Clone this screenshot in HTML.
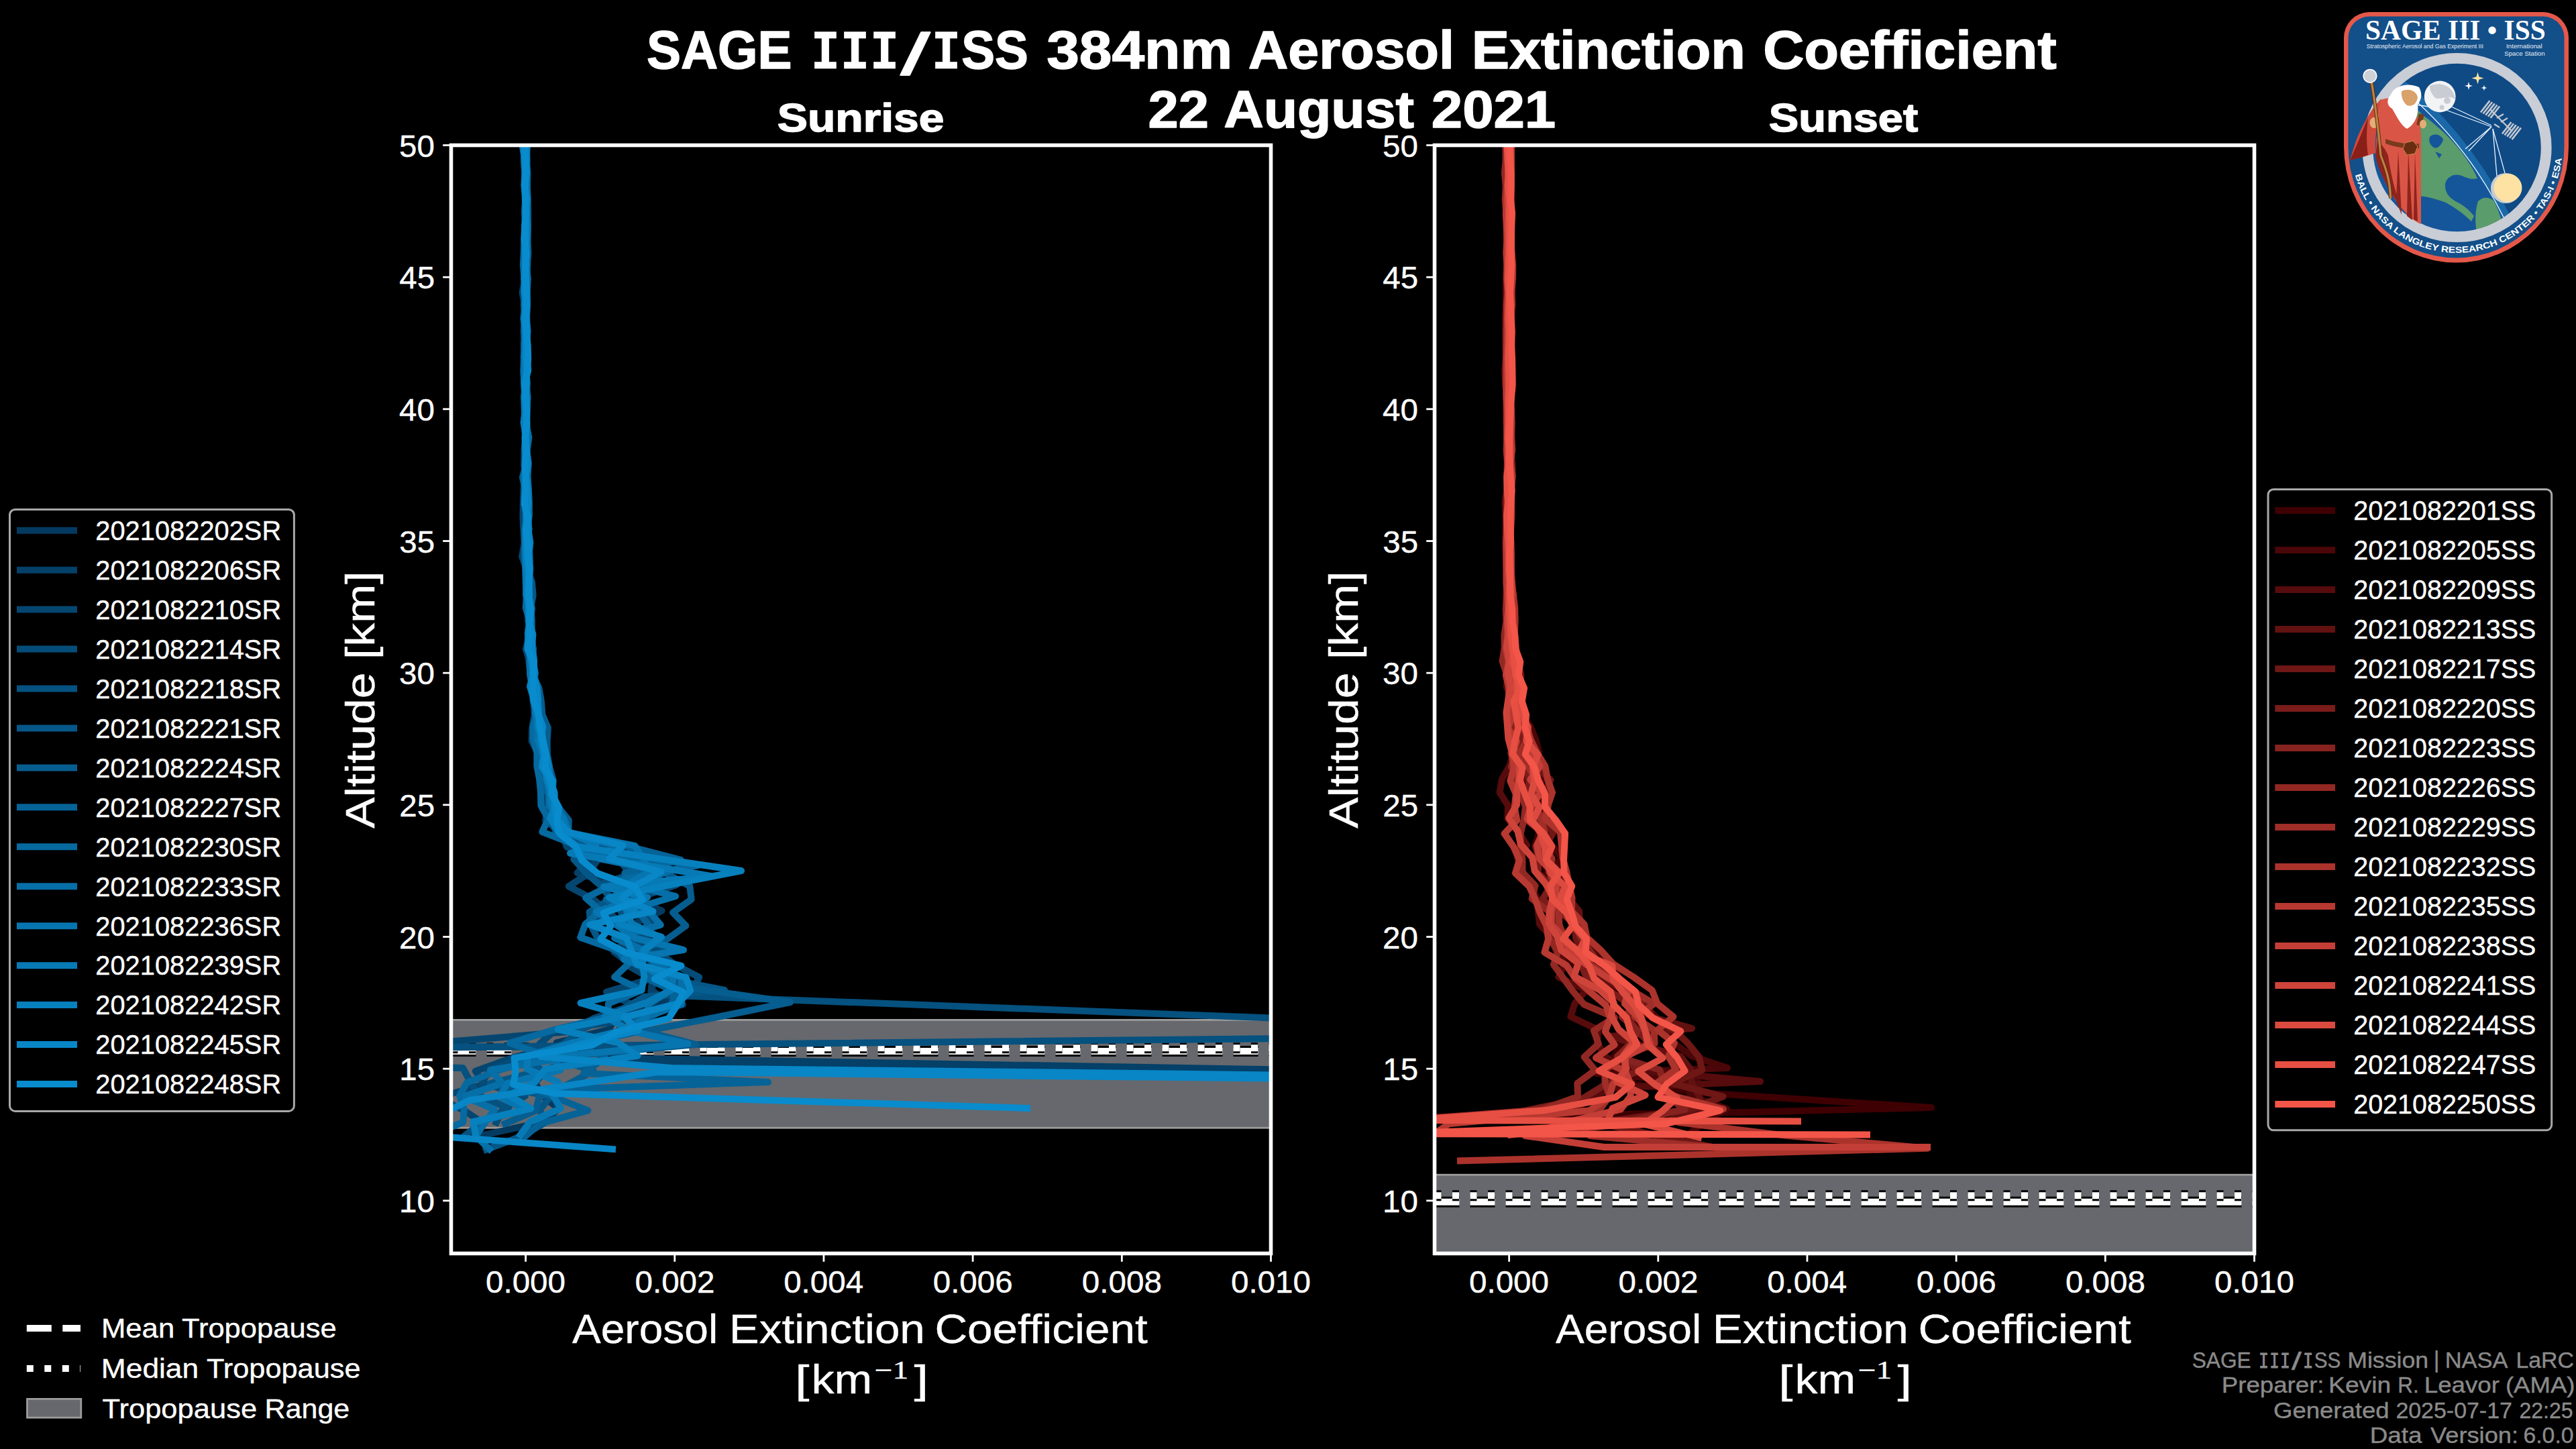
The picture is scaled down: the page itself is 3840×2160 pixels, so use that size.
<!DOCTYPE html><html><head><meta charset="utf-8"><title>SAGE III/ISS 384nm Aerosol Extinction Coefficient</title><style>html,body{margin:0;padding:0;background:#000;width:3840px;height:2160px;overflow:hidden}svg{display:block}</style></head><body>
<svg width="3840" height="2160" viewBox="0 0 3840 2160">
<rect x="0" y="0" width="3840" height="2160" fill="#000"/>
<defs>
<clipPath id="clip0"><rect x="672.5" y="216.5" width="1222.0" height="1652.0"/></clipPath>
<clipPath id="clip1"><rect x="2138.5" y="216.5" width="1222.0" height="1652.0"/></clipPath>
</defs>
<text x="963.96" y="102.00" font-family="'Liberation Sans', Arial, sans-serif" font-weight="bold" font-size="79.64" fill="#fff" stroke="#fff" stroke-width="1.5" stroke-linejoin="round" textLength="216.57" lengthAdjust="spacingAndGlyphs">SAGE</text>
<text x="1208.13" y="102.00" font-family="'DejaVu Sans Mono', monospace" font-weight="bold" font-size="74.93" fill="#fff" stroke="#fff" stroke-width="0.6" stroke-linejoin="round" textLength="44.29" lengthAdjust="spacingAndGlyphs">I</text>
<text x="1252.19" y="102.00" font-family="'DejaVu Sans Mono', monospace" font-weight="bold" font-size="74.93" fill="#fff" stroke="#fff" stroke-width="0.6" stroke-linejoin="round" textLength="44.57" lengthAdjust="spacingAndGlyphs">I</text>
<text x="1296.53" y="102.00" font-family="'DejaVu Sans Mono', monospace" font-weight="bold" font-size="74.93" fill="#fff" stroke="#fff" stroke-width="0.6" stroke-linejoin="round" textLength="44.29" lengthAdjust="spacingAndGlyphs">I</text>
<text x="1388.19" y="102.00" font-family="'DejaVu Sans Mono', monospace" font-weight="bold" font-size="74.93" fill="#fff" stroke="#fff" stroke-width="0.6" stroke-linejoin="round" textLength="44.57" lengthAdjust="spacingAndGlyphs">I</text>
<text x="1433.21" y="102.00" font-family="'Liberation Sans', Arial, sans-serif" font-weight="bold" font-size="79.64" fill="#fff" stroke="#fff" stroke-width="1.5" stroke-linejoin="round" textLength="99.55" lengthAdjust="spacingAndGlyphs">SS</text>
<text x="1560.28" y="102.00" font-family="'Liberation Sans', Arial, sans-serif" font-weight="bold" font-size="79.64" fill="#fff" stroke="#fff" stroke-width="1.5" stroke-linejoin="round" textLength="276.90" lengthAdjust="spacingAndGlyphs">384nm</text>
<text x="1860.69" y="102.00" font-family="'Liberation Sans', Arial, sans-serif" font-weight="bold" font-size="79.64" fill="#fff" stroke="#fff" stroke-width="1.5" stroke-linejoin="round" textLength="307.20" lengthAdjust="spacingAndGlyphs">Aerosol</text>
<text x="2193.65" y="102.00" font-family="'Liberation Sans', Arial, sans-serif" font-weight="bold" font-size="79.64" fill="#fff" stroke="#fff" stroke-width="1.5" stroke-linejoin="round" textLength="408.16" lengthAdjust="spacingAndGlyphs">Extinction</text>
<text x="2628.16" y="102.00" font-family="'Liberation Sans', Arial, sans-serif" font-weight="bold" font-size="79.64" fill="#fff" stroke="#fff" stroke-width="1.5" stroke-linejoin="round" textLength="437.52" lengthAdjust="spacingAndGlyphs">Coefficient</text>
<text x="1342.90" y="111.02" font-family="'Liberation Sans', Arial, sans-serif" font-weight="normal" font-size="88.03" fill="#fff" stroke="#fff" stroke-width="2.0" stroke-linejoin="round" textLength="42.95" lengthAdjust="spacingAndGlyphs">/</text>
<text x="1711.61" y="190.00" font-family="'Liberation Sans', Arial, sans-serif" font-weight="bold" font-size="78.49" fill="#fff" stroke="#fff" stroke-width="1.5" stroke-linejoin="round" textLength="90.27" lengthAdjust="spacingAndGlyphs">22</text>
<text x="1824.19" y="190.00" font-family="'Liberation Sans', Arial, sans-serif" font-weight="bold" font-size="78.49" fill="#fff" stroke="#fff" stroke-width="1.5" stroke-linejoin="round" textLength="283.71" lengthAdjust="spacingAndGlyphs">August</text>
<text x="2133.83" y="190.00" font-family="'Liberation Sans', Arial, sans-serif" font-weight="bold" font-size="78.49" fill="#fff" stroke="#fff" stroke-width="1.5" stroke-linejoin="round" textLength="185.29" lengthAdjust="spacingAndGlyphs">2021</text>
<text x="1158.72" y="195.90" font-family="'Liberation Sans', Arial, sans-serif" font-weight="bold" font-size="59.86" fill="#fff" stroke="#fff" stroke-width="1.5" stroke-linejoin="round" textLength="248.68" lengthAdjust="spacingAndGlyphs">Sunrise</text>
<text x="2636.75" y="195.90" font-family="'Liberation Sans', Arial, sans-serif" font-weight="bold" font-size="59.86" fill="#fff" stroke="#fff" stroke-width="1.5" stroke-linejoin="round" textLength="222.44" lengthAdjust="spacingAndGlyphs">Sunset</text>
<g clip-path="url(#clip0)">
<rect x="662.5" y="1520.40" width="1242.0" height="160.87" fill="#66686d" stroke="#9c9c9c" stroke-width="2.8"/>
<line x1="672.5" y1="1567.0" x2="1954.5" y2="1567.0" stroke="#000" stroke-width="16" stroke-dasharray="37 16"/>
<line x1="672.5" y1="1567.0" x2="1954.5" y2="1567.0" stroke="#fff" stroke-width="10" stroke-dasharray="37 16"/>
<line x1="672.5" y1="1562.3" x2="1954.5" y2="1562.3" stroke="#000" stroke-width="16" stroke-dasharray="10 16.5"/>
<line x1="672.5" y1="1562.3" x2="1954.5" y2="1562.3" stroke="#fff" stroke-width="10" stroke-dasharray="10 16.5"/>
<polyline points="785.4,216.5 784.7,236.7 783.9,256.3 784.2,276.0 783.3,295.7 784.3,315.3 783.3,335.0 784.2,354.7 783.5,374.3 786.4,394.0 784.4,413.7 785.7,433.3 784.9,453.0 784.1,472.7 785.4,492.3 785.9,512.0 784.6,531.7 784.1,551.3 784.3,571.0 783.2,590.7 783.1,610.3 785.1,630.0 783.7,649.7 782.6,669.3 783.7,689.0 784.3,708.7 783.5,728.3 782.9,748.0 786.2,767.7 787.8,787.3 787.3,807.0 787.8,826.7 790.6,846.3 789.4,866.0 789.1,885.7 792.0,905.3 792.8,925.0 791.8,944.7 794.1,964.3 796.3,984.0 794.4,1003.7 798.2,1023.3 795.0,1043.0 801.2,1062.7 803.9,1082.3 805.9,1102.0 813.7,1121.7 817.6,1141.3 812.3,1161.0 821.2,1180.7 820.5,1200.3 825.5,1220.0 835.3,1239.7 901.0,1259.3 920.5,1279.0 995.7,1298.7 1001.3,1318.3 938.9,1338.0 986.6,1357.7 944.4,1377.3 962.2,1397.0 925.5,1416.7 954.1,1436.3 976.6,1456.0 971.4,1475.7 994.7,1495.3 918.2,1515.0 907.7,1534.7 829.6,1554.3 871.7,1574.0 816.1,1593.7 797.8,1613.3 807.8,1633.0 832.9,1652.7 810.4,1672.3 720.8,1692.0" fill="none" stroke="#043a60" stroke-width="10" stroke-linejoin="round" stroke-linecap="square"/>
<polyline points="781.9,216.5 784.4,239.1 783.7,258.7 782.9,278.4 783.0,298.1 782.5,317.7 782.1,337.4 781.5,357.1 784.5,376.7 783.6,396.4 784.9,416.1 784.8,435.7 785.7,455.4 785.3,475.1 784.8,494.7 785.0,514.4 785.3,534.1 785.0,553.7 784.6,573.4 784.7,593.1 785.9,612.7 784.6,632.4 784.7,652.1 784.0,671.7 785.9,691.4 783.3,711.1 783.7,730.7 784.0,750.4 783.5,770.1 785.9,789.7 784.2,809.4 784.7,829.1 786.1,848.7 787.1,868.4 784.5,888.1 785.2,907.7 788.3,927.4 786.9,947.1 795.2,966.7 790.8,986.4 797.3,1006.1 798.5,1025.7 795.8,1045.4 804.0,1065.1 807.0,1084.7 806.7,1104.4 806.7,1124.1 814.3,1143.7 815.0,1163.4 818.4,1183.1 823.1,1202.7 833.4,1222.4 832.0,1242.1 888.4,1261.7 881.4,1281.4 860.5,1301.1 926.2,1320.7 938.1,1340.4 907.2,1360.1 882.0,1379.7 938.6,1399.4 915.2,1419.1 941.7,1438.7 972.8,1458.4 970.3,1478.1 1017.9,1497.7 930.5,1517.4 922.4,1537.1 849.3,1556.7 960.0,1578.0 6000.0,1666.0 930.0,1584.0" fill="none" stroke="#044068" stroke-width="10" stroke-linejoin="round" stroke-linecap="square"/>
<polyline points="783.9,216.5 781.1,239.7 782.3,259.3 783.0,279.0 783.2,298.7 783.4,318.3 782.1,338.0 781.3,357.7 781.8,377.3 783.4,397.0 781.9,416.7 778.8,436.3 782.2,456.0 781.0,475.7 783.2,495.3 782.6,515.0 785.0,534.7 783.8,554.3 784.3,574.0 782.7,593.7 782.1,613.3 782.5,633.0 783.1,652.7 781.5,672.3 781.1,692.0 782.5,711.7 780.5,731.3 779.9,751.0 779.5,770.7 780.4,790.3 781.5,810.0 778.2,829.7 785.0,849.3 785.7,869.0 784.3,888.7 788.5,908.3 788.9,928.0 789.1,947.7 783.8,967.3 789.7,987.0 790.4,1006.7 794.6,1026.3 795.6,1046.0 796.8,1065.7 793.2,1085.3 792.7,1105.0 803.3,1124.7 801.0,1144.3 806.6,1164.0 807.8,1183.7 815.8,1203.3 813.2,1223.0 838.3,1242.7 844.7,1262.3 890.7,1282.0 877.7,1301.7 847.9,1321.3 885.1,1341.0 908.0,1360.7 931.0,1380.3 931.3,1400.0 939.2,1419.7 936.2,1439.3 970.7,1459.0 904.0,1478.7 943.8,1498.3 885.1,1518.0 850.2,1537.7 560.0,1562.0 824.0,1560.0 763.3,1577.0 708.8,1596.7 722.3,1616.3 653.0,1636.0 692.3,1655.7 721.8,1675.3 706.8,1695.0" fill="none" stroke="#054670" stroke-width="10" stroke-linejoin="round" stroke-linecap="square"/>
<polyline points="785.4,216.5 784.3,237.5 783.7,257.1 784.6,276.8 782.6,296.5 784.1,316.1 784.8,335.8 783.1,355.5 784.9,375.1 782.4,394.8 781.2,414.5 782.8,434.1 780.7,453.8 782.2,473.5 780.5,493.1 782.7,512.8 780.5,532.5 782.7,552.1 782.9,571.8 783.8,591.5 785.8,611.1 785.3,630.8 784.5,650.5 782.9,670.1 785.2,689.8 783.9,709.5 782.3,729.1 784.7,748.8 783.8,768.5 784.1,788.1 784.8,807.8 788.2,827.5 787.0,847.1 786.5,866.8 789.5,886.5 789.6,906.1 787.4,925.8 790.8,945.5 787.2,965.1 788.3,984.8 790.4,1004.5 794.5,1024.1 796.8,1043.8 797.2,1063.5 811.0,1083.1 805.4,1102.8 809.0,1122.5 812.0,1142.1 819.3,1161.8 824.2,1181.5 828.2,1201.1 829.8,1220.8 827.6,1240.5 900.4,1260.1 922.2,1279.8 936.7,1299.5 1008.2,1319.1 950.5,1338.8 949.1,1358.5 981.3,1378.1 939.3,1397.8 978.7,1417.5 1004.7,1437.1 1042.3,1456.8 1032.2,1476.5 1000.6,1496.1 971.1,1515.8 828.4,1535.5 805.4,1555.1 787.4,1574.8 730.6,1594.5 718.6,1614.1 782.7,1633.8 749.6,1653.5 740.0,1673.1" fill="none" stroke="#054c78" stroke-width="10" stroke-linejoin="round" stroke-linecap="square"/>
<polyline points="784.5,216.5 781.9,236.2 783.7,255.9 783.5,275.5 783.9,295.2 783.8,314.9 784.2,334.5 785.0,354.2 784.5,373.9 786.3,393.5 785.8,413.2 783.9,432.9 785.0,452.5 784.8,472.2 786.2,491.9 783.4,511.5 786.1,531.2 787.4,550.9 783.1,570.5 784.6,590.2 785.1,609.9 785.2,629.5 786.6,649.2 785.6,668.9 786.9,688.5 784.3,708.2 783.0,727.9 784.0,747.5 786.5,767.2 784.1,786.9 783.5,806.5 787.6,826.2 783.6,845.9 788.2,865.5 788.1,885.2 786.5,904.9 787.8,924.5 792.7,944.2 789.8,963.9 795.0,983.5 792.0,1003.2 798.9,1022.9 797.4,1042.5 800.3,1062.2 802.9,1081.9 808.8,1101.5 804.2,1121.2 810.6,1140.9 814.5,1160.5 820.8,1180.2 816.0,1199.9 838.1,1219.5 842.6,1239.2 868.7,1258.9 967.5,1278.5 954.7,1298.2 896.8,1317.9 908.4,1337.5 924.9,1357.2 933.1,1376.9 957.2,1396.5 994.8,1416.2 971.3,1435.9 996.4,1455.5 1000.0,1484.0 2541.0,1541.6 -316.0,1571.0 690.0,1592.0 701.3,1612.9 713.0,1632.5 757.8,1652.2 719.4,1671.9 694.5,1691.5" fill="none" stroke="#05517f" stroke-width="10" stroke-linejoin="round" stroke-linecap="square"/>
<polyline points="785.0,216.5 784.8,238.5 782.4,258.2 783.9,277.8 783.8,297.5 785.6,317.2 783.9,336.8 784.3,356.5 784.3,376.2 785.6,395.8 783.4,415.5 784.2,435.2 782.8,454.8 785.3,474.5 784.0,494.2 782.3,513.8 781.8,533.5 782.8,553.2 781.4,572.8 784.4,592.5 783.0,612.2 784.8,631.8 785.1,651.5 783.6,671.2 784.0,690.8 783.6,710.5 783.2,730.2 783.9,749.8 786.6,769.5 787.4,789.2 790.7,808.8 788.3,828.5 786.3,848.2 792.9,867.8 794.6,887.5 791.0,907.2 791.3,926.8 792.9,946.5 791.4,966.2 792.8,985.8 793.2,1005.5 796.6,1025.2 798.5,1044.8 800.1,1064.5 800.9,1084.2 807.5,1103.8 808.7,1123.5 812.8,1143.2 812.7,1162.8 818.1,1182.5 826.3,1202.2 818.8,1221.8 830.5,1241.5 874.2,1261.2 855.4,1280.8 873.0,1300.5 895.4,1320.2 910.6,1339.8 878.6,1359.5 880.9,1379.2 890.9,1398.8 919.3,1418.5 999.6,1438.2 988.8,1457.8 1080.0,1476.0 960.0,1486.0 906.8,1516.8 863.0,1536.5 840.7,1556.2 777.9,1575.8 808.0,1595.5 730.6,1615.2 820.0,1634.8 804.9,1654.5 811.4,1674.2 777.5,1693.8 725.1,1713.5" fill="none" stroke="#055787" stroke-width="10" stroke-linejoin="round" stroke-linecap="square"/>
<polyline points="785.8,216.5 785.1,239.3 786.5,259.0 786.0,278.7 786.8,298.3 787.1,318.0 787.1,337.7 786.3,357.3 787.5,377.0 785.8,396.7 784.5,416.3 785.5,436.0 784.9,455.7 783.9,475.3 786.6,495.0 784.9,514.7 785.8,534.3 783.4,554.0 785.9,573.7 784.9,593.3 785.2,613.0 784.6,632.7 788.5,652.3 785.6,672.0 786.5,691.7 786.2,711.3 785.0,731.0 786.4,750.7 784.7,770.3 787.5,790.0 788.1,809.7 789.8,829.3 789.9,849.0 787.7,868.7 787.2,888.3 790.9,908.0 792.8,927.7 792.4,947.3 794.6,967.0 794.2,986.7 794.6,1006.3 803.5,1026.0 806.9,1045.7 808.4,1065.3 816.8,1085.0 815.6,1104.7 815.8,1124.3 819.3,1144.0 824.9,1163.7 823.4,1183.3 832.0,1203.0 847.8,1222.7 847.3,1242.3 936.5,1262.0 953.3,1281.7 991.7,1301.3 1028.3,1321.0 1030.6,1340.7 1003.1,1360.3 1022.4,1380.0 995.0,1399.7 947.7,1419.3 949.8,1439.0 1010.0,1470.0 1178.0,1494.0 1080.0,1514.0 960.7,1537.3 1037.7,1557.0 821.3,1576.7 884.6,1596.3 847.8,1616.0 803.6,1635.7 798.6,1655.3 753.2,1675.0" fill="none" stroke="#065d8f" stroke-width="10" stroke-linejoin="round" stroke-linecap="square"/>
<polyline points="785.3,216.5 782.8,239.4 782.8,259.1 782.0,278.8 783.1,298.4 782.4,318.1 784.6,337.8 784.9,357.4 783.7,377.1 783.1,396.8 782.7,416.4 783.8,436.1 783.5,455.8 783.8,475.4 782.3,495.1 782.2,514.8 784.1,534.4 782.5,554.1 782.9,573.8 782.5,593.4 782.7,613.1 784.2,632.8 784.9,652.4 785.5,672.1 784.4,691.8 779.0,711.4 783.1,731.1 783.4,750.8 783.8,770.4 784.0,790.1 787.4,809.8 786.3,829.4 787.1,849.1 788.5,868.8 786.5,888.4 791.8,908.1 792.3,927.8 791.3,947.4 794.5,967.1 795.7,986.8 796.3,1006.4 796.7,1026.1 799.2,1045.8 801.1,1065.4 799.7,1085.1 803.9,1104.8 802.4,1124.4 810.8,1144.1 806.6,1163.8 817.6,1183.4 829.9,1203.1 835.8,1222.8 850.2,1242.4 938.8,1262.1 1014.8,1281.8 931.4,1301.4 976.1,1321.1 903.7,1340.8 952.9,1360.4 967.5,1380.1 925.8,1399.8 964.4,1419.4 994.5,1439.1 965.5,1458.8 1005.9,1478.4 1001.5,1498.1 937.6,1517.8 954.7,1537.4 858.6,1557.1 901.8,1576.8 870.0,1600.0 1145.0,1613.0 800.0,1625.0 876.4,1655.4 804.6,1675.1 781.9,1694.8" fill="none" stroke="#066397" stroke-width="10" stroke-linejoin="round" stroke-linecap="square"/>
<polyline points="781.4,216.5 780.9,237.1 782.2,256.8 781.4,276.5 783.3,296.1 782.2,315.8 783.5,335.5 781.4,355.1 780.9,374.8 779.9,394.5 781.3,414.1 782.1,433.8 782.9,453.5 782.6,473.1 782.0,492.8 781.1,512.5 781.1,532.1 780.4,551.8 781.1,571.5 782.2,591.1 782.1,610.8 781.3,630.5 783.2,650.1 782.0,669.8 784.8,689.5 782.6,709.1 783.9,728.8 782.0,748.5 785.7,768.1 782.1,787.8 782.6,807.5 781.7,827.1 783.5,846.8 783.7,866.5 785.3,886.1 783.7,905.8 789.6,925.5 793.6,945.1 791.2,964.8 795.7,984.5 793.7,1004.1 791.4,1023.8 798.3,1043.5 800.1,1063.1 794.8,1082.8 794.9,1102.5 800.4,1122.1 800.4,1141.8 804.1,1161.5 806.0,1181.1 806.4,1200.8 817.3,1220.5 808.3,1240.1 880.0,1268.0 1040.0,1290.0 930.0,1310.0 873.1,1338.5 895.3,1358.1 872.4,1377.8 865.2,1397.5 921.2,1417.1 936.7,1436.8 916.1,1456.5 956.7,1476.1 907.0,1495.8 906.1,1515.5 826.4,1535.1 759.9,1554.8 816.7,1574.5 747.2,1594.1 696.0,1613.8 685.1,1633.5 691.8,1653.1 690.3,1672.8 644.5,1692.5" fill="none" stroke="#06699f" stroke-width="10" stroke-linejoin="round" stroke-linecap="square"/>
<polyline points="783.1,216.5 783.1,238.0 784.3,257.7 785.3,277.3 786.0,297.0 784.6,316.7 786.3,336.3 786.4,356.0 784.9,375.7 784.3,395.3 786.8,415.0 785.7,434.7 786.2,454.3 784.6,474.0 783.9,493.7 784.6,513.3 782.0,533.0 784.6,552.7 784.2,572.3 786.6,592.0 785.5,611.7 783.3,631.3 787.7,651.0 784.6,670.7 787.8,690.3 786.5,710.0 787.9,729.7 788.8,749.3 788.8,769.0 786.1,788.7 788.6,808.3 786.9,828.0 787.7,847.7 788.4,867.3 787.8,887.0 792.9,906.7 790.3,926.3 790.7,946.0 790.8,965.7 790.1,985.3 790.1,1005.0 793.3,1024.7 794.7,1044.3 799.7,1064.0 799.8,1083.7 800.8,1103.3 809.7,1123.0 812.3,1142.7 816.7,1162.3 818.4,1182.0 818.8,1201.7 835.2,1221.3 838.3,1241.0 917.5,1260.7 894.9,1280.3 993.0,1300.0 940.9,1319.7 1007.0,1336.0 960.0,1350.0 984.8,1378.7 916.2,1398.3 962.7,1418.0 976.4,1437.7 1015.4,1457.3 1017.0,1477.0 1015.9,1496.7 962.6,1516.3 930.7,1536.0 858.7,1555.7 854.1,1575.3 730.9,1595.0 748.7,1614.7 692.4,1634.3 737.2,1654.0 722.7,1673.7 709.2,1693.3 729.5,1713.0" fill="none" stroke="#076fa7" stroke-width="10" stroke-linejoin="round" stroke-linecap="square"/>
<polyline points="783.9,216.5 785.6,238.2 783.9,257.9 784.0,277.6 783.3,297.2 785.0,316.9 782.7,336.6 783.7,356.2 782.3,375.9 785.1,395.6 781.3,415.2 784.9,434.9 783.6,454.6 780.4,474.2 783.1,493.9 783.7,513.6 783.0,533.2 780.9,552.9 783.0,572.6 781.2,592.2 781.8,611.9 782.3,631.6 785.1,651.2 782.9,670.9 783.3,690.6 783.7,710.2 784.8,729.9 786.0,749.6 784.9,769.2 788.6,788.9 785.0,808.6 788.0,828.2 787.4,847.9 788.0,867.6 784.6,887.2 788.1,906.9 788.6,926.6 790.0,946.2 793.4,965.9 794.2,985.6 793.5,1005.2 799.4,1024.9 799.0,1044.6 797.6,1064.2 807.1,1083.9 801.8,1103.6 808.7,1123.2 818.7,1142.9 820.0,1162.6 821.1,1182.2 829.7,1201.9 841.2,1221.6 848.0,1241.2 946.5,1260.9 959.3,1280.6 967.9,1300.2 931.1,1319.9 950.4,1339.6 888.5,1359.2 919.0,1378.9 946.9,1398.6 1019.0,1416.0 930.0,1430.0 1004.3,1457.6 997.9,1477.2 967.1,1496.9 963.5,1516.6 936.9,1536.2 1025.4,1555.9 824.5,1575.6 835.2,1595.2 756.7,1614.9 744.4,1634.6 783.2,1654.2 706.8,1673.9" fill="none" stroke="#0775af" stroke-width="10" stroke-linejoin="round" stroke-linecap="square"/>
<polyline points="778.8,216.5 781.8,236.4 783.2,256.1 782.6,275.8 784.3,295.4 784.9,315.1 784.3,334.8 785.1,354.4 782.5,374.1 784.6,393.8 782.6,413.4 782.2,433.1 784.0,452.8 784.3,472.4 786.4,492.1 784.3,511.8 785.8,531.4 784.3,551.1 785.6,570.8 781.6,590.4 783.6,610.1 780.5,629.8 783.9,649.4 783.0,669.1 783.4,688.8 782.4,708.4 782.5,728.1 782.0,747.8 784.6,767.4 784.1,787.1 782.9,806.8 784.5,826.4 783.5,846.1 784.2,865.8 784.1,885.4 789.7,905.1 790.3,924.8 786.7,944.4 792.7,964.1 794.4,983.8 797.9,1003.4 791.8,1023.1 801.4,1042.8 803.2,1062.4 801.1,1082.1 807.9,1101.8 808.4,1121.4 815.2,1141.1 814.4,1160.8 820.6,1180.4 822.4,1200.1 836.7,1219.8 844.5,1239.4 888.4,1259.1 850.0,1272.0 1000.0,1296.0 1060.0,1306.0 900.0,1322.0 964.9,1337.8 933.8,1357.4 941.4,1377.1 983.0,1396.8 958.6,1416.4 954.3,1436.1 985.2,1455.8 1001.4,1475.4 962.8,1495.1 902.2,1514.8 935.0,1534.4 854.9,1554.1 787.1,1573.8 785.6,1593.4 831.9,1613.1 824.1,1632.8 835.8,1652.4 790.5,1672.1 775.6,1691.8" fill="none" stroke="#077ab6" stroke-width="10" stroke-linejoin="round" stroke-linecap="square"/>
<polyline points="783.6,216.5 784.0,236.5 784.9,256.2 781.7,275.8 786.1,295.5 783.1,315.2 784.7,334.8 783.7,354.5 782.6,374.2 783.3,393.8 782.2,413.5 783.4,433.2 782.2,452.8 783.5,472.5 784.0,492.2 783.4,511.8 783.2,531.5 784.9,551.2 781.9,570.8 782.7,590.5 784.0,610.2 785.4,629.8 784.2,649.5 785.0,669.2 784.4,688.8 783.6,708.5 786.0,728.2 783.5,747.8 786.8,767.5 788.2,787.2 784.5,806.8 784.2,826.5 785.7,846.2 788.5,865.8 788.3,885.5 790.8,905.2 790.9,924.8 787.3,944.5 786.6,964.2 791.9,983.8 795.1,1003.5 790.0,1023.2 795.9,1042.8 801.3,1062.5 806.8,1082.2 809.1,1101.8 813.3,1121.5 817.8,1141.2 817.0,1160.8 822.7,1180.5 828.2,1200.2 820.2,1219.8 831.7,1239.5 860.0,1262.0 1105.0,1298.0 1003.0,1318.0 908.1,1337.8 946.3,1357.5 922.7,1377.2 986.1,1396.8 960.6,1416.5 957.6,1436.2 960.5,1455.8 956.3,1475.5 865.5,1495.2 933.7,1514.8 831.7,1534.5 921.0,1554.2 950.5,1573.8 812.8,1593.5 797.4,1613.2 758.4,1632.8 791.5,1652.5 705.7,1672.2 708.8,1691.8" fill="none" stroke="#0780be" stroke-width="10" stroke-linejoin="round" stroke-linecap="square"/>
<polyline points="785.3,216.5 783.7,237.7 784.9,257.4 782.9,277.1 783.1,296.7 784.2,316.4 784.0,336.1 783.9,355.7 783.0,375.4 782.8,395.1 782.5,414.7 781.5,434.4 784.1,454.1 782.3,473.7 783.6,493.4 785.2,513.1 784.5,532.7 787.1,552.4 781.7,572.1 784.6,591.7 784.3,611.4 785.1,631.1 783.5,650.7 784.5,670.4 787.0,690.1 783.7,709.7 786.1,729.4 787.2,749.1 784.6,768.7 787.4,788.4 789.6,808.1 788.2,827.7 789.6,847.4 788.4,867.1 789.1,886.7 788.5,906.4 788.8,926.1 794.4,945.7 792.7,965.4 795.9,985.1 794.3,1004.7 800.5,1024.4 802.0,1044.1 802.2,1063.7 809.3,1083.4 806.4,1103.1 811.6,1122.7 808.0,1142.4 819.8,1162.1 826.6,1181.7 826.9,1201.4 829.5,1221.1 847.1,1240.7 928.7,1260.4 908.5,1280.1 985.7,1299.7 948.5,1319.4 927.3,1339.1 973.4,1358.7 879.3,1378.4 934.0,1398.1 941.3,1417.7 949.1,1437.4 1022.7,1457.1 1029.1,1476.7 1009.5,1496.4 930.8,1516.1 951.5,1535.7 870.2,1555.4 806.2,1575.1 1000.0,1592.0 6000.0,1650.0 980.0,1598.0 700.0,1640.0 600.0,1690.0 913.0,1713.0" fill="none" stroke="#0886c6" stroke-width="10" stroke-linejoin="round" stroke-linecap="square"/>
<polyline points="781.6,216.5 783.4,240.0 783.2,259.6 782.4,279.3 783.5,299.0 784.0,318.6 782.1,338.3 781.9,358.0 784.9,377.6 783.2,397.3 784.0,417.0 784.7,436.6 784.9,456.3 784.2,476.0 784.7,495.6 786.7,515.3 787.2,535.0 785.4,554.6 783.9,574.3 783.4,594.0 785.1,613.6 784.3,633.3 782.5,653.0 784.6,672.6 782.6,692.3 783.6,712.0 783.2,731.6 781.8,751.3 787.1,771.0 783.8,790.6 786.1,810.3 786.8,830.0 789.3,849.6 788.4,869.3 787.1,889.0 790.8,908.6 789.4,928.3 790.2,948.0 786.5,967.6 795.8,987.3 795.2,1007.0 793.8,1026.6 796.3,1046.3 803.2,1066.0 804.9,1085.6 809.7,1105.3 813.8,1125.0 812.9,1144.6 823.9,1164.3 822.4,1184.0 833.2,1203.6 830.1,1223.3 834.5,1243.0 858.4,1262.6 867.4,1282.3 890.9,1302.0 945.9,1321.6 958.1,1341.3 899.5,1361.0 910.3,1380.6 895.2,1400.3 932.6,1420.0 1015.4,1439.6 975.7,1459.3 1018.5,1479.0 1009.3,1498.6 996.8,1518.3 919.6,1538.0 883.5,1557.6 766.6,1577.3 768.6,1597.0 765.3,1616.6 828.0,1630.0 1531.0,1652.0" fill="none" stroke="#088cce" stroke-width="10" stroke-linejoin="round" stroke-linecap="square"/>
</g>
<rect x="672.5" y="216.5" width="1222.0" height="1652.0" fill="none" stroke="#fff" stroke-width="5.6" stroke-linejoin="miter"/>
<line x1="660.2" y1="1789.83" x2="672.5" y2="1789.83" stroke="#fff" stroke-width="2.8"/>
<line x1="660.2" y1="1593.17" x2="672.5" y2="1593.17" stroke="#fff" stroke-width="2.8"/>
<line x1="660.2" y1="1396.50" x2="672.5" y2="1396.50" stroke="#fff" stroke-width="2.8"/>
<line x1="660.2" y1="1199.83" x2="672.5" y2="1199.83" stroke="#fff" stroke-width="2.8"/>
<line x1="660.2" y1="1003.17" x2="672.5" y2="1003.17" stroke="#fff" stroke-width="2.8"/>
<line x1="660.2" y1="806.50" x2="672.5" y2="806.50" stroke="#fff" stroke-width="2.8"/>
<line x1="660.2" y1="609.83" x2="672.5" y2="609.83" stroke="#fff" stroke-width="2.8"/>
<line x1="660.2" y1="413.17" x2="672.5" y2="413.17" stroke="#fff" stroke-width="2.8"/>
<line x1="660.2" y1="216.50" x2="672.5" y2="216.50" stroke="#fff" stroke-width="2.8"/>
<line x1="783.59" y1="1868.5" x2="783.59" y2="1880.8" stroke="#fff" stroke-width="2.8"/>
<line x1="1005.77" y1="1868.5" x2="1005.77" y2="1880.8" stroke="#fff" stroke-width="2.8"/>
<line x1="1227.95" y1="1868.5" x2="1227.95" y2="1880.8" stroke="#fff" stroke-width="2.8"/>
<line x1="1450.14" y1="1868.5" x2="1450.14" y2="1880.8" stroke="#fff" stroke-width="2.8"/>
<line x1="1672.32" y1="1868.5" x2="1672.32" y2="1880.8" stroke="#fff" stroke-width="2.8"/>
<line x1="1894.50" y1="1868.5" x2="1894.50" y2="1880.8" stroke="#fff" stroke-width="2.8"/>
<g clip-path="url(#clip1)">
<rect x="2128.5" y="1751.29" width="1242.0" height="156.55" fill="#66686d" stroke="#9c9c9c" stroke-width="2.8"/>
<line x1="2138.5" y1="1791.7" x2="3420.5" y2="1791.7" stroke="#000" stroke-width="16" stroke-dasharray="37 16"/>
<line x1="2138.5" y1="1791.7" x2="3420.5" y2="1791.7" stroke="#fff" stroke-width="10" stroke-dasharray="37 16"/>
<line x1="2138.5" y1="1782.3" x2="3420.5" y2="1782.3" stroke="#000" stroke-width="16" stroke-dasharray="10 16.5"/>
<line x1="2138.5" y1="1782.3" x2="3420.5" y2="1782.3" stroke="#fff" stroke-width="10" stroke-dasharray="10 16.5"/>
<polyline points="2247.7,216.5 2247.7,238.9 2246.5,258.6 2248.8,278.2 2246.4,297.9 2249.9,317.6 2249.6,337.2 2250.8,356.9 2249.9,376.6 2250.5,396.2 2249.5,415.9 2248.8,435.6 2248.8,455.2 2247.5,474.9 2247.2,494.6 2246.3,514.2 2246.5,533.9 2246.5,553.6 2247.1,573.2 2246.8,592.9 2246.5,612.6 2247.5,632.2 2248.0,651.9 2246.8,671.6 2248.2,691.2 2249.2,710.9 2247.4,730.6 2248.2,750.2 2249.8,769.9 2246.1,789.6 2245.8,809.2 2246.2,828.9 2249.2,848.6 2249.2,868.2 2249.2,887.9 2253.6,907.6 2254.1,927.2 2251.8,946.9 2250.6,966.6 2256.5,986.2 2254.6,1005.9 2258.5,1025.6 2260.0,1045.2 2270.5,1064.9 2264.5,1084.6 2259.8,1104.2 2266.4,1123.9 2276.4,1143.6 2270.1,1163.2 2286.2,1182.9 2289.4,1202.6 2288.2,1222.2 2293.8,1241.9 2287.7,1261.6 2304.4,1281.2 2305.6,1300.9 2320.2,1320.6 2312.8,1340.2 2320.1,1359.9 2321.2,1379.6 2330.4,1399.2 2326.6,1418.9 2348.1,1438.6 2397.3,1458.2 2402.5,1477.9 2428.2,1497.6 2436.1,1517.2 2439.2,1536.9 2417.1,1556.6 2404.9,1576.2 2441.8,1595.9 2430.8,1615.6 2537.0,1629.0 2879.0,1651.0 2600.0,1658.0 1940.0,1668.0" fill="none" stroke="#3e0003" stroke-width="10" stroke-linejoin="round" stroke-linecap="square"/>
<polyline points="2249.2,216.5 2249.7,236.9 2249.4,256.5 2249.9,276.2 2249.1,295.9 2249.7,315.5 2249.3,335.2 2250.6,354.9 2252.3,374.5 2251.3,394.2 2252.7,413.9 2252.4,433.5 2253.3,453.2 2253.5,472.9 2254.4,492.5 2252.2,512.2 2253.4,531.9 2252.8,551.5 2252.1,571.2 2251.4,590.9 2250.2,610.5 2250.7,630.2 2249.9,649.9 2249.4,669.5 2248.5,689.2 2248.2,708.9 2248.3,728.5 2248.7,748.2 2248.9,767.9 2250.6,787.5 2250.0,807.2 2251.6,826.9 2249.1,846.5 2254.1,866.2 2255.1,885.9 2254.6,905.5 2257.8,925.2 2258.0,944.9 2255.2,964.5 2255.6,984.2 2259.6,1003.9 2255.4,1023.5 2263.2,1043.2 2266.6,1062.9 2281.2,1082.5 2289.3,1102.2 2294.2,1121.9 2285.2,1141.5 2299.3,1161.2 2291.7,1180.9 2294.6,1200.5 2302.4,1220.2 2302.3,1239.9 2313.0,1259.5 2328.0,1279.2 2312.5,1298.9 2307.5,1318.5 2327.2,1338.2 2340.4,1357.9 2347.7,1377.5 2351.6,1397.2 2380.3,1416.9 2402.4,1436.5 2411.7,1456.2 2422.6,1475.9 2448.2,1495.5 2468.0,1515.2 2485.2,1534.9 2494.7,1554.5 2521.8,1574.2 2575.0,1592.0 2380.0,1600.0 2531.9,1613.5 2518.5,1633.2 2574.2,1652.9 2540.5,1672.5 2515.9,1692.2" fill="none" stroke="#4a0608" stroke-width="10" stroke-linejoin="round" stroke-linecap="square"/>
<polyline points="2246.5,216.5 2246.3,237.1 2246.6,256.8 2245.2,276.4 2244.5,296.1 2245.3,315.8 2245.8,335.4 2245.7,355.1 2246.1,374.8 2245.9,394.4 2245.0,414.1 2245.0,433.8 2245.0,453.4 2243.8,473.1 2244.2,492.8 2244.3,512.4 2245.0,532.1 2243.0,551.8 2244.2,571.4 2245.8,591.1 2245.2,610.8 2245.5,630.4 2247.4,650.1 2245.3,669.8 2246.7,689.4 2245.7,709.1 2246.5,728.8 2243.4,748.4 2244.6,768.1 2244.6,787.8 2244.3,807.4 2244.7,827.1 2245.0,846.8 2246.1,866.4 2245.2,886.1 2245.4,905.8 2246.6,925.4 2244.0,945.1 2246.0,964.8 2242.6,984.4 2247.6,1004.1 2245.7,1023.8 2254.1,1043.4 2256.3,1063.1 2261.9,1082.8 2256.3,1102.4 2255.9,1122.1 2250.3,1141.8 2238.9,1161.4 2235.5,1181.1 2247.9,1200.8 2247.5,1220.4 2263.4,1240.1 2276.0,1259.8 2262.3,1279.4 2269.8,1299.1 2280.9,1318.8 2290.8,1338.4 2292.8,1358.1 2294.9,1377.8 2313.1,1397.4 2319.3,1417.1 2332.9,1436.8 2323.2,1456.4 2364.5,1476.1 2347.5,1495.8 2341.3,1515.4 2382.0,1535.1 2381.0,1554.8 2392.1,1574.4 2420.4,1594.1 2624.0,1612.0 2400.0,1622.0 2346.7,1653.1 2093.4,1672.8 2121.6,1692.4" fill="none" stroke="#560b0c" stroke-width="10" stroke-linejoin="round" stroke-linecap="square"/>
<polyline points="2251.2,216.5 2253.2,237.5 2251.3,257.2 2252.7,276.9 2252.7,296.5 2253.0,316.2 2251.7,335.9 2252.9,355.5 2251.6,375.2 2251.4,394.9 2250.9,414.5 2250.8,434.2 2249.1,453.9 2251.6,473.5 2250.7,493.2 2250.9,512.9 2251.5,532.5 2252.0,552.2 2250.6,571.9 2251.0,591.5 2250.4,611.2 2249.9,630.9 2250.5,650.5 2252.1,670.2 2250.7,689.9 2252.2,709.5 2250.6,729.2 2251.7,748.9 2250.5,768.5 2249.4,788.2 2252.0,807.9 2252.6,827.5 2252.4,847.2 2251.2,866.9 2256.3,886.5 2256.0,906.2 2256.9,925.9 2256.7,945.5 2255.8,965.2 2259.8,984.9 2262.0,1004.5 2259.0,1024.2 2266.2,1043.9 2271.1,1063.5 2273.9,1083.2 2277.2,1102.9 2281.8,1122.5 2286.7,1142.2 2277.1,1161.9 2287.7,1181.5 2288.5,1201.2 2274.6,1220.9 2299.5,1240.5 2300.1,1260.2 2305.6,1279.9 2324.2,1299.5 2332.5,1319.2 2338.0,1338.9 2354.2,1358.5 2354.5,1378.2 2351.4,1397.9 2366.7,1417.5 2366.5,1437.2 2385.7,1456.9 2420.3,1476.5 2432.4,1496.2 2461.4,1515.9 2522.0,1533.0 2400.0,1545.0 2505.2,1574.9 2520.6,1594.5 2521.7,1614.2 2532.8,1633.9 2538.3,1653.5 2479.2,1673.2" fill="none" stroke="#621111" stroke-width="10" stroke-linejoin="round" stroke-linecap="square"/>
<polyline points="2251.2,216.5 2249.8,238.2 2251.1,257.9 2251.9,277.6 2252.7,297.2 2251.0,316.9 2253.2,336.6 2252.3,356.2 2253.2,375.9 2253.4,395.6 2253.0,415.2 2253.9,434.9 2251.6,454.6 2250.8,474.2 2250.7,493.9 2252.6,513.6 2251.4,533.2 2251.8,552.9 2250.5,572.6 2251.1,592.2 2249.6,611.9 2251.2,631.6 2252.3,651.2 2251.0,670.9 2254.2,690.6 2254.4,710.2 2252.7,729.9 2251.0,749.6 2251.9,769.2 2251.0,788.9 2251.9,808.6 2252.5,828.2 2252.2,847.9 2253.7,867.6 2253.5,887.2 2254.9,906.9 2257.5,926.6 2255.1,946.2 2258.8,965.9 2262.2,985.6 2267.1,1005.2 2267.1,1024.9 2266.3,1044.6 2273.7,1064.2 2275.9,1083.9 2278.8,1103.6 2286.1,1123.2 2289.9,1142.9 2311.4,1162.6 2302.3,1182.2 2307.9,1201.9 2300.4,1221.6 2315.5,1241.2 2304.0,1260.9 2313.5,1280.6 2309.2,1300.2 2327.7,1319.9 2325.7,1339.6 2342.5,1359.2 2347.3,1378.9 2349.1,1398.6 2358.1,1418.2 2371.3,1437.9 2395.8,1457.6 2426.7,1477.2 2456.0,1496.9 2461.9,1516.6 2496.6,1536.2 2516.8,1555.9 2532.7,1575.6 2537.3,1595.2 2492.2,1614.9 2568.6,1634.6 2516.5,1654.2 2381.7,1673.9 2474.4,1693.6 2568.7,1713.2" fill="none" stroke="#6e1715" stroke-width="10" stroke-linejoin="round" stroke-linecap="square"/>
<polyline points="2248.1,216.5 2247.8,239.0 2248.6,258.6 2250.5,278.3 2250.0,298.0 2249.9,317.6 2249.9,337.3 2249.5,357.0 2248.0,376.6 2248.2,396.3 2247.3,416.0 2246.6,435.6 2247.1,455.3 2247.7,475.0 2250.1,494.6 2249.5,514.3 2249.5,534.0 2249.7,553.6 2247.4,573.3 2248.5,593.0 2247.1,612.6 2246.0,632.3 2246.5,652.0 2248.7,671.6 2249.1,691.3 2249.5,711.0 2249.3,730.6 2249.0,750.3 2247.0,770.0 2245.3,789.6 2245.0,809.3 2247.5,829.0 2246.8,848.6 2247.0,868.3 2246.6,888.0 2247.0,907.6 2248.0,927.3 2250.8,947.0 2248.3,966.6 2247.7,986.3 2250.5,1006.0 2252.7,1025.6 2256.0,1045.3 2253.7,1065.0 2268.2,1084.6 2266.2,1104.3 2272.8,1124.0 2273.0,1143.6 2280.4,1163.3 2274.3,1183.0 2290.1,1202.6 2276.1,1222.3 2300.3,1242.0 2289.3,1261.6 2293.7,1281.3 2292.5,1301.0 2311.6,1320.6 2299.6,1340.3 2319.3,1360.0 2322.2,1379.6 2322.5,1399.3 2333.8,1419.0 2357.3,1438.6 2365.6,1458.3 2399.9,1478.0 2431.5,1497.6 2426.3,1517.3 2440.9,1537.0 2459.8,1556.6 2419.8,1576.3 2443.4,1596.0 2395.2,1615.6 2357.0,1639.0 2202.0,1670.0" fill="none" stroke="#7a1c1a" stroke-width="10" stroke-linejoin="round" stroke-linecap="square"/>
<polyline points="2249.1,216.5 2249.4,237.7 2249.8,257.4 2251.2,277.1 2250.8,296.7 2251.2,316.4 2249.8,336.1 2249.7,355.7 2247.4,375.4 2246.5,395.1 2245.9,414.7 2247.2,434.4 2247.8,454.1 2248.8,473.7 2250.3,493.4 2248.4,513.1 2247.6,532.7 2248.9,552.4 2248.2,572.1 2249.0,591.7 2247.4,611.4 2249.8,631.1 2250.2,650.7 2249.8,670.4 2248.9,690.1 2250.4,709.7 2248.4,729.4 2248.4,749.1 2250.3,768.7 2250.5,788.4 2251.2,808.1 2251.5,827.7 2250.4,847.4 2250.2,867.1 2247.4,886.7 2248.7,906.4 2249.1,926.1 2252.2,945.7 2252.3,965.4 2259.2,985.1 2257.2,1004.7 2260.3,1024.4 2256.6,1044.1 2261.9,1063.7 2255.1,1083.4 2256.8,1103.1 2252.3,1122.7 2259.0,1142.4 2261.8,1162.1 2258.8,1181.7 2279.4,1201.4 2295.8,1221.1 2301.3,1240.7 2312.1,1260.4 2309.8,1280.1 2310.9,1299.7 2314.0,1319.4 2328.7,1339.1 2325.8,1358.7 2348.0,1378.4 2356.2,1398.1 2370.5,1417.7 2384.9,1437.4 2406.2,1457.1 2430.6,1476.7 2446.3,1496.4 2418.1,1516.1 2441.1,1535.7 2431.4,1555.4 2410.7,1575.1 2474.1,1594.7 2480.5,1614.4 2485.0,1634.1 2511.6,1653.7 2421.3,1673.4 2303.4,1693.1" fill="none" stroke="#86221f" stroke-width="10" stroke-linejoin="round" stroke-linecap="square"/>
<polyline points="2244.4,216.5 2244.6,238.4 2242.9,258.1 2244.7,277.7 2243.6,297.4 2245.6,317.1 2246.0,336.7 2247.6,356.4 2246.9,376.1 2249.0,395.7 2248.6,415.4 2247.8,435.1 2245.5,454.7 2246.7,474.4 2245.2,494.1 2245.3,513.7 2244.8,533.4 2244.7,553.1 2244.6,572.7 2245.6,592.4 2246.6,612.1 2246.3,631.7 2246.9,651.4 2246.4,671.1 2247.8,690.7 2246.4,710.4 2246.3,730.1 2246.1,749.7 2246.4,769.4 2246.5,789.1 2247.4,808.7 2247.0,828.4 2248.3,848.1 2247.8,867.7 2246.1,887.4 2244.7,907.1 2245.4,926.7 2242.5,946.4 2242.7,966.1 2239.5,985.7 2246.2,1005.4 2249.1,1025.1 2248.7,1044.7 2251.5,1064.4 2247.7,1084.1 2254.4,1103.7 2260.4,1123.4 2253.0,1143.1 2265.6,1162.7 2266.7,1182.4 2273.9,1202.1 2271.8,1221.7 2266.8,1241.4 2266.6,1261.1 2269.4,1280.7 2269.5,1300.4 2288.5,1320.1 2283.6,1339.7 2310.3,1359.4 2305.3,1379.1 2310.0,1398.7 2322.3,1418.4 2316.0,1438.1 2330.1,1457.7 2344.5,1477.4 2361.1,1497.1 2406.7,1516.7 2375.9,1536.4 2382.9,1556.1 2361.7,1575.7 2377.7,1595.4 2351.3,1615.1 2352.1,1634.7 2297.3,1654.4 2033.6,1674.1" fill="none" stroke="#922823" stroke-width="10" stroke-linejoin="round" stroke-linecap="square"/>
<polyline points="2252.0,216.5 2252.5,237.6 2252.9,257.3 2252.1,277.0 2251.1,296.6 2250.9,316.3 2250.8,336.0 2251.8,355.6 2251.7,375.3 2251.2,395.0 2249.8,414.6 2249.5,434.3 2247.8,454.0 2246.9,473.6 2247.8,493.3 2246.7,513.0 2247.5,532.6 2249.4,552.3 2249.1,572.0 2250.6,591.6 2250.0,611.3 2250.4,631.0 2250.2,650.6 2249.4,670.3 2248.5,690.0 2249.5,709.6 2250.1,729.3 2250.4,749.0 2251.0,768.6 2251.2,788.3 2252.4,808.0 2253.1,827.6 2253.0,847.3 2253.4,867.0 2254.7,886.6 2250.0,906.3 2252.3,926.0 2252.3,945.6 2252.2,965.3 2249.5,985.0 2256.1,1004.6 2260.8,1024.3 2261.0,1044.0 2265.6,1063.6 2270.1,1083.3 2278.1,1103.0 2263.7,1122.6 2277.4,1142.3 2290.0,1162.0 2285.4,1181.6 2289.4,1201.3 2297.5,1221.0 2302.6,1240.6 2300.6,1260.3 2313.6,1280.0 2309.0,1299.6 2320.0,1319.3 2327.0,1339.0 2323.4,1358.6 2324.3,1378.3 2332.1,1398.0 2350.1,1417.6 2370.4,1437.3 2396.1,1457.0 2432.7,1476.6 2465.6,1496.3 2437.0,1516.0 2465.6,1535.6 2466.5,1555.3 2421.1,1575.0 2392.4,1594.6 2392.6,1614.3 2399.4,1634.0 2384.9,1653.6 2356.6,1673.3 2369.9,1693.0 2579.7,1712.6" fill="none" stroke="#9f2d28" stroke-width="10" stroke-linejoin="round" stroke-linecap="square"/>
<polyline points="2253.2,216.5 2253.0,237.3 2253.1,257.0 2252.8,276.6 2251.9,296.3 2253.5,316.0 2253.1,335.6 2252.8,355.3 2253.3,375.0 2255.2,394.6 2255.1,414.3 2253.3,434.0 2254.1,453.6 2252.6,473.3 2252.6,493.0 2251.1,512.6 2252.7,532.3 2252.0,552.0 2251.1,571.6 2252.3,591.3 2252.9,611.0 2253.6,630.6 2253.1,650.3 2254.2,670.0 2252.0,689.6 2254.7,709.3 2252.9,729.0 2253.2,748.6 2253.3,768.3 2252.2,788.0 2251.4,807.6 2251.3,827.3 2252.3,847.0 2253.6,866.6 2255.8,886.3 2258.1,906.0 2258.6,925.6 2257.8,945.3 2260.0,965.0 2260.8,984.6 2263.3,1004.3 2259.3,1024.0 2266.1,1043.6 2264.0,1063.3 2276.1,1083.0 2281.9,1102.6 2291.3,1122.3 2303.3,1142.0 2307.0,1161.6 2314.0,1181.3 2307.4,1201.0 2303.3,1220.6 2325.9,1240.3 2327.9,1260.0 2329.7,1279.6 2335.3,1299.3 2339.1,1319.0 2343.5,1338.6 2342.8,1358.3 2361.6,1378.0 2365.6,1397.6 2387.0,1417.3 2404.9,1437.0 2435.4,1456.6 2462.8,1476.3 2470.5,1496.0 2494.4,1515.6 2471.1,1535.3 2495.9,1555.0 2487.1,1574.6 2498.2,1594.3 2470.0,1614.0 2494.3,1633.6 2569.0,1653.3 2502.1,1673.0 2661.0,1692.6 2873.0,1711.8 2177.0,1730.4" fill="none" stroke="#ab332c" stroke-width="10" stroke-linejoin="round" stroke-linecap="square"/>
<polyline points="2247.4,216.5 2248.0,239.6 2248.2,259.3 2246.7,278.9 2246.0,298.6 2244.8,318.3 2245.8,337.9 2246.4,357.6 2245.3,377.3 2246.7,396.9 2246.5,416.6 2248.0,436.3 2247.0,455.9 2246.2,475.6 2247.2,495.3 2246.7,514.9 2246.2,534.6 2246.2,554.3 2246.1,573.9 2245.5,593.6 2246.4,613.3 2246.4,632.9 2246.3,652.6 2246.2,672.3 2247.4,691.9 2249.6,711.6 2248.1,731.3 2249.2,750.9 2249.3,770.6 2246.5,790.3 2245.3,809.9 2245.4,829.6 2245.6,849.3 2245.4,868.9 2247.2,888.6 2248.0,908.3 2246.5,927.9 2247.4,947.6 2244.8,967.3 2248.9,986.9 2244.8,1006.6 2249.6,1026.3 2250.4,1045.9 2255.6,1065.6 2247.5,1085.3 2261.1,1104.9 2253.7,1124.6 2256.9,1144.3 2251.3,1163.9 2259.8,1183.6 2257.7,1203.3 2261.3,1222.9 2242.6,1242.6 2256.3,1262.3 2264.9,1281.9 2258.9,1301.6 2279.6,1321.3 2288.7,1340.9 2295.6,1360.6 2305.5,1380.3 2308.1,1399.9 2302.5,1419.6 2335.3,1439.3 2348.7,1458.9 2370.1,1478.6 2393.9,1498.3 2400.3,1517.9 2392.7,1537.6 2406.8,1557.3 2379.0,1576.9 2422.4,1596.6 2404.1,1616.3 2398.7,1635.9 2368.9,1655.6 2159.7,1675.3 2131.4,1694.9" fill="none" stroke="#b73931" stroke-width="10" stroke-linejoin="round" stroke-linecap="square"/>
<polyline points="2249.8,216.5 2247.4,237.7 2248.4,257.3 2249.2,277.0 2249.2,296.7 2248.7,316.3 2249.9,336.0 2250.8,355.7 2251.2,375.3 2251.2,395.0 2249.7,414.7 2250.3,434.3 2249.9,454.0 2248.4,473.7 2249.9,493.3 2250.8,513.0 2248.5,532.7 2248.5,552.3 2250.2,572.0 2248.6,591.7 2248.3,611.3 2250.6,631.0 2250.6,650.7 2248.5,670.3 2248.7,690.0 2249.8,709.7 2246.7,729.3 2248.2,749.0 2250.6,768.7 2250.7,788.3 2249.3,808.0 2251.0,827.7 2251.6,847.3 2253.1,867.0 2254.1,886.7 2250.8,906.3 2254.7,926.0 2250.9,945.7 2249.7,965.3 2249.8,985.0 2252.6,1004.7 2255.6,1024.3 2259.6,1044.0 2264.2,1063.7 2278.0,1083.3 2275.0,1103.0 2285.1,1122.7 2295.8,1142.3 2281.3,1162.0 2297.5,1181.7 2282.0,1201.3 2276.4,1221.0 2299.6,1240.7 2291.2,1260.3 2295.0,1280.0 2313.5,1299.7 2319.7,1319.3 2318.1,1339.0 2312.7,1358.7 2312.5,1378.3 2331.6,1398.0 2339.1,1417.7 2364.0,1437.3 2395.9,1457.0 2427.5,1476.7 2422.0,1496.3 2442.0,1516.0 2452.1,1535.7 2459.9,1555.3 2423.7,1575.0 2421.6,1594.7 2430.2,1614.3 2430.7,1634.0 2415.9,1653.7 2333.9,1673.3 2273.4,1693.0 2391.0,1710.0 2873.0,1710.0" fill="none" stroke="#c33e36" stroke-width="10" stroke-linejoin="round" stroke-linecap="square"/>
<polyline points="2249.0,216.5 2248.0,236.2 2248.6,255.8 2249.2,275.5 2247.7,295.2 2249.0,314.8 2247.8,334.5 2248.3,354.2 2248.7,373.8 2247.9,393.5 2248.0,413.2 2248.3,432.8 2250.5,452.5 2248.7,472.2 2249.5,491.8 2249.2,511.5 2248.1,531.2 2247.8,550.8 2249.0,570.5 2249.1,590.2 2249.6,609.8 2250.1,629.5 2251.2,649.2 2250.2,668.8 2249.7,688.5 2248.5,708.2 2248.6,727.8 2248.2,747.5 2245.8,767.2 2246.3,786.8 2247.7,806.5 2249.0,826.2 2249.0,845.8 2249.9,865.5 2248.9,885.2 2248.9,904.8 2247.4,924.5 2249.1,944.2 2246.3,963.8 2249.8,983.5 2247.6,1003.2 2252.0,1022.8 2248.3,1042.5 2245.4,1062.2 2247.0,1081.8 2248.4,1101.5 2253.8,1121.2 2265.7,1140.8 2264.2,1160.5 2261.4,1180.2 2261.0,1199.8 2249.2,1219.5 2262.6,1239.2 2267.0,1258.8 2284.3,1278.5 2287.7,1298.2 2304.3,1317.8 2315.0,1337.5 2310.1,1357.2 2309.0,1376.8 2321.5,1396.5 2327.2,1416.2 2352.6,1435.8 2346.5,1455.5 2384.1,1475.2 2405.6,1494.8 2401.9,1514.5 2412.8,1534.2 2435.2,1553.8 2419.7,1573.5 2424.4,1593.2 2410.6,1612.8 2452.6,1632.5 2403.7,1652.2 2396.0,1671.8 2252.1,1691.5" fill="none" stroke="#cf443a" stroke-width="10" stroke-linejoin="round" stroke-linecap="square"/>
<polyline points="2251.3,216.5 2251.8,240.0 2250.5,259.6 2250.9,279.3 2251.4,299.0 2251.7,318.6 2252.3,338.3 2250.0,358.0 2253.3,377.6 2249.6,397.3 2250.4,417.0 2250.9,436.6 2252.5,456.3 2250.7,476.0 2250.4,495.6 2250.5,515.3 2253.0,535.0 2250.5,554.6 2251.8,574.3 2252.0,594.0 2252.2,613.6 2251.2,633.3 2250.5,653.0 2251.4,672.6 2250.8,692.3 2250.3,712.0 2251.1,731.6 2249.1,751.3 2249.5,771.0 2251.4,790.6 2250.9,810.3 2251.6,830.0 2251.8,849.6 2251.1,869.3 2252.1,889.0 2249.4,908.6 2251.8,928.3 2252.5,948.0 2258.2,967.6 2254.0,987.3 2263.1,1007.0 2260.7,1026.6 2265.3,1046.3 2270.0,1066.0 2277.6,1085.6 2275.6,1105.3 2292.5,1125.0 2285.1,1144.6 2287.5,1164.3 2282.3,1184.0 2294.8,1203.6 2284.7,1223.3 2297.1,1243.0 2302.6,1262.6 2305.1,1282.3 2312.3,1302.0 2333.5,1321.6 2324.6,1341.3 2339.9,1361.0 2345.9,1380.6 2363.2,1400.3 2352.4,1420.0 2403.4,1439.6 2404.4,1459.3 2418.9,1479.0 2436.6,1498.6 2447.3,1518.3 2452.8,1538.0 2456.4,1557.6 2478.6,1577.3 2442.2,1597.0 2466.8,1616.6 2499.8,1636.3 2478.4,1656.0 2450.5,1675.6 2532.0,1695.3" fill="none" stroke="#db4a3f" stroke-width="10" stroke-linejoin="round" stroke-linecap="square"/>
<polyline points="2246.7,216.5 2247.6,239.3 2248.8,258.9 2247.9,278.6 2250.7,298.3 2249.7,317.9 2250.5,337.6 2250.1,357.3 2249.8,376.9 2249.2,396.6 2248.0,416.3 2249.6,435.9 2249.1,455.6 2248.5,475.3 2249.7,494.9 2249.2,514.6 2248.7,534.3 2249.6,553.9 2249.5,573.6 2248.5,593.3 2248.6,612.9 2248.7,632.6 2247.8,652.3 2249.5,671.9 2248.4,691.6 2246.2,711.3 2246.9,730.9 2248.3,750.6 2246.3,770.3 2247.2,789.9 2249.2,809.6 2249.5,829.3 2249.2,848.9 2251.1,868.6 2251.2,888.3 2251.4,907.9 2251.5,927.6 2252.4,947.3 2254.6,966.9 2257.7,986.6 2259.3,1006.3 2265.5,1025.9 2256.4,1045.6 2260.2,1065.3 2263.3,1084.9 2258.3,1104.6 2255.0,1124.3 2269.6,1143.9 2266.0,1163.6 2273.1,1183.3 2280.7,1202.9 2280.9,1222.6 2300.7,1242.3 2313.4,1261.9 2304.7,1281.6 2324.5,1301.3 2311.1,1320.9 2314.2,1340.6 2334.7,1360.3 2344.6,1379.9 2330.2,1399.6 2354.4,1419.3 2368.4,1438.9 2376.3,1458.6 2400.9,1478.3 2405.6,1497.9 2424.8,1517.6 2430.3,1537.3 2440.4,1556.9 2418.4,1576.6 2383.5,1596.3 2432.4,1615.9 2408.4,1635.6 2301.8,1655.3 2100.0,1670.0 2680.0,1671.4" fill="none" stroke="#e74f43" stroke-width="10" stroke-linejoin="round" stroke-linecap="square"/>
<polyline points="2250.4,216.5 2251.2,239.3 2252.6,259.0 2252.6,278.6 2252.1,298.3 2254.0,318.0 2253.2,337.6 2253.0,357.3 2252.6,377.0 2253.2,396.6 2252.2,416.3 2251.2,436.0 2251.4,455.6 2252.6,475.3 2253.7,495.0 2253.2,514.6 2254.0,534.3 2254.4,554.0 2254.7,573.6 2252.9,593.3 2251.2,613.0 2250.7,632.6 2250.0,652.3 2249.5,672.0 2250.5,691.6 2252.0,711.3 2253.7,731.0 2252.3,750.6 2251.6,770.3 2251.8,790.0 2251.9,809.6 2250.3,829.3 2250.7,849.0 2251.3,868.6 2251.3,888.3 2254.3,908.0 2254.7,927.6 2258.3,947.3 2259.1,967.0 2266.3,986.6 2263.6,1006.3 2272.1,1026.0 2268.7,1045.6 2275.1,1065.3 2273.3,1085.0 2279.6,1104.6 2273.8,1124.3 2287.6,1144.0 2293.2,1163.6 2303.0,1183.3 2303.1,1203.0 2319.3,1222.6 2333.1,1242.3 2332.1,1262.0 2331.1,1281.6 2331.5,1301.3 2343.2,1321.0 2335.6,1340.6 2342.7,1360.3 2348.6,1380.0 2365.2,1399.6 2363.5,1419.3 2391.8,1439.0 2413.8,1458.6 2437.9,1478.3 2442.7,1498.0 2464.4,1517.6 2505.4,1537.3 2483.8,1557.0 2499.9,1576.6 2511.5,1596.3 2484.5,1616.0 2471.5,1635.6 2564.1,1655.3 2484.2,1675.0 2080.0,1690.0 2783.0,1691.6" fill="none" stroke="#f35548" stroke-width="10" stroke-linejoin="round" stroke-linecap="square"/>
</g>
<rect x="2138.5" y="216.5" width="1222.0" height="1652.0" fill="none" stroke="#fff" stroke-width="5.6" stroke-linejoin="miter"/>
<line x1="2126.2" y1="1789.83" x2="2138.5" y2="1789.83" stroke="#fff" stroke-width="2.8"/>
<line x1="2126.2" y1="1593.17" x2="2138.5" y2="1593.17" stroke="#fff" stroke-width="2.8"/>
<line x1="2126.2" y1="1396.50" x2="2138.5" y2="1396.50" stroke="#fff" stroke-width="2.8"/>
<line x1="2126.2" y1="1199.83" x2="2138.5" y2="1199.83" stroke="#fff" stroke-width="2.8"/>
<line x1="2126.2" y1="1003.17" x2="2138.5" y2="1003.17" stroke="#fff" stroke-width="2.8"/>
<line x1="2126.2" y1="806.50" x2="2138.5" y2="806.50" stroke="#fff" stroke-width="2.8"/>
<line x1="2126.2" y1="609.83" x2="2138.5" y2="609.83" stroke="#fff" stroke-width="2.8"/>
<line x1="2126.2" y1="413.17" x2="2138.5" y2="413.17" stroke="#fff" stroke-width="2.8"/>
<line x1="2126.2" y1="216.50" x2="2138.5" y2="216.50" stroke="#fff" stroke-width="2.8"/>
<line x1="2249.59" y1="1868.5" x2="2249.59" y2="1880.8" stroke="#fff" stroke-width="2.8"/>
<line x1="2471.77" y1="1868.5" x2="2471.77" y2="1880.8" stroke="#fff" stroke-width="2.8"/>
<line x1="2693.95" y1="1868.5" x2="2693.95" y2="1880.8" stroke="#fff" stroke-width="2.8"/>
<line x1="2916.14" y1="1868.5" x2="2916.14" y2="1880.8" stroke="#fff" stroke-width="2.8"/>
<line x1="3138.32" y1="1868.5" x2="3138.32" y2="1880.8" stroke="#fff" stroke-width="2.8"/>
<line x1="3360.50" y1="1868.5" x2="3360.50" y2="1880.8" stroke="#fff" stroke-width="2.8"/>
<text x="595.10" y="1807.13" font-family="'Liberation Sans', Arial, sans-serif" font-weight="normal" font-size="46.75" fill="#fff" stroke="#fff" stroke-width="0.4" stroke-linejoin="round" textLength="52.90" lengthAdjust="spacingAndGlyphs">10</text>
<text x="595.22" y="1610.47" font-family="'Liberation Sans', Arial, sans-serif" font-weight="normal" font-size="46.75" fill="#fff" stroke="#fff" stroke-width="0.4" stroke-linejoin="round" textLength="52.90" lengthAdjust="spacingAndGlyphs">15</text>
<text x="595.10" y="1413.80" font-family="'Liberation Sans', Arial, sans-serif" font-weight="normal" font-size="46.75" fill="#fff" stroke="#fff" stroke-width="0.4" stroke-linejoin="round" textLength="52.90" lengthAdjust="spacingAndGlyphs">20</text>
<text x="595.22" y="1217.13" font-family="'Liberation Sans', Arial, sans-serif" font-weight="normal" font-size="46.75" fill="#fff" stroke="#fff" stroke-width="0.4" stroke-linejoin="round" textLength="52.90" lengthAdjust="spacingAndGlyphs">25</text>
<text x="595.10" y="1020.47" font-family="'Liberation Sans', Arial, sans-serif" font-weight="normal" font-size="46.75" fill="#fff" stroke="#fff" stroke-width="0.4" stroke-linejoin="round" textLength="52.90" lengthAdjust="spacingAndGlyphs">30</text>
<text x="595.22" y="823.80" font-family="'Liberation Sans', Arial, sans-serif" font-weight="normal" font-size="46.75" fill="#fff" stroke="#fff" stroke-width="0.4" stroke-linejoin="round" textLength="52.90" lengthAdjust="spacingAndGlyphs">35</text>
<text x="595.10" y="627.13" font-family="'Liberation Sans', Arial, sans-serif" font-weight="normal" font-size="46.75" fill="#fff" stroke="#fff" stroke-width="0.4" stroke-linejoin="round" textLength="52.90" lengthAdjust="spacingAndGlyphs">40</text>
<text x="595.22" y="430.47" font-family="'Liberation Sans', Arial, sans-serif" font-weight="normal" font-size="46.75" fill="#fff" stroke="#fff" stroke-width="0.4" stroke-linejoin="round" textLength="52.90" lengthAdjust="spacingAndGlyphs">45</text>
<text x="595.10" y="233.80" font-family="'Liberation Sans', Arial, sans-serif" font-weight="normal" font-size="46.75" fill="#fff" stroke="#fff" stroke-width="0.4" stroke-linejoin="round" textLength="52.90" lengthAdjust="spacingAndGlyphs">50</text>
<text x="724.03" y="1926.80" font-family="'Liberation Sans', Arial, sans-serif" font-weight="normal" font-size="46.75" fill="#fff" stroke="#fff" stroke-width="0.4" stroke-linejoin="round" textLength="119.01" lengthAdjust="spacingAndGlyphs">0.000</text>
<text x="946.51" y="1926.80" font-family="'Liberation Sans', Arial, sans-serif" font-weight="normal" font-size="46.75" fill="#fff" stroke="#fff" stroke-width="0.4" stroke-linejoin="round" textLength="119.01" lengthAdjust="spacingAndGlyphs">0.002</text>
<text x="1168.15" y="1926.80" font-family="'Liberation Sans', Arial, sans-serif" font-weight="normal" font-size="46.75" fill="#fff" stroke="#fff" stroke-width="0.4" stroke-linejoin="round" textLength="119.01" lengthAdjust="spacingAndGlyphs">0.004</text>
<text x="1390.69" y="1926.80" font-family="'Liberation Sans', Arial, sans-serif" font-weight="normal" font-size="46.75" fill="#fff" stroke="#fff" stroke-width="0.4" stroke-linejoin="round" textLength="119.01" lengthAdjust="spacingAndGlyphs">0.006</text>
<text x="1612.88" y="1926.80" font-family="'Liberation Sans', Arial, sans-serif" font-weight="normal" font-size="46.75" fill="#fff" stroke="#fff" stroke-width="0.4" stroke-linejoin="round" textLength="119.01" lengthAdjust="spacingAndGlyphs">0.008</text>
<text x="1834.94" y="1926.80" font-family="'Liberation Sans', Arial, sans-serif" font-weight="normal" font-size="46.75" fill="#fff" stroke="#fff" stroke-width="0.4" stroke-linejoin="round" textLength="119.01" lengthAdjust="spacingAndGlyphs">0.010</text>
<text x="2061.10" y="1807.13" font-family="'Liberation Sans', Arial, sans-serif" font-weight="normal" font-size="46.75" fill="#fff" stroke="#fff" stroke-width="0.4" stroke-linejoin="round" textLength="52.90" lengthAdjust="spacingAndGlyphs">10</text>
<text x="2061.22" y="1610.47" font-family="'Liberation Sans', Arial, sans-serif" font-weight="normal" font-size="46.75" fill="#fff" stroke="#fff" stroke-width="0.4" stroke-linejoin="round" textLength="52.90" lengthAdjust="spacingAndGlyphs">15</text>
<text x="2061.10" y="1413.80" font-family="'Liberation Sans', Arial, sans-serif" font-weight="normal" font-size="46.75" fill="#fff" stroke="#fff" stroke-width="0.4" stroke-linejoin="round" textLength="52.90" lengthAdjust="spacingAndGlyphs">20</text>
<text x="2061.22" y="1217.13" font-family="'Liberation Sans', Arial, sans-serif" font-weight="normal" font-size="46.75" fill="#fff" stroke="#fff" stroke-width="0.4" stroke-linejoin="round" textLength="52.90" lengthAdjust="spacingAndGlyphs">25</text>
<text x="2061.10" y="1020.47" font-family="'Liberation Sans', Arial, sans-serif" font-weight="normal" font-size="46.75" fill="#fff" stroke="#fff" stroke-width="0.4" stroke-linejoin="round" textLength="52.90" lengthAdjust="spacingAndGlyphs">30</text>
<text x="2061.22" y="823.80" font-family="'Liberation Sans', Arial, sans-serif" font-weight="normal" font-size="46.75" fill="#fff" stroke="#fff" stroke-width="0.4" stroke-linejoin="round" textLength="52.90" lengthAdjust="spacingAndGlyphs">35</text>
<text x="2061.10" y="627.13" font-family="'Liberation Sans', Arial, sans-serif" font-weight="normal" font-size="46.75" fill="#fff" stroke="#fff" stroke-width="0.4" stroke-linejoin="round" textLength="52.90" lengthAdjust="spacingAndGlyphs">40</text>
<text x="2061.22" y="430.47" font-family="'Liberation Sans', Arial, sans-serif" font-weight="normal" font-size="46.75" fill="#fff" stroke="#fff" stroke-width="0.4" stroke-linejoin="round" textLength="52.90" lengthAdjust="spacingAndGlyphs">45</text>
<text x="2061.10" y="233.80" font-family="'Liberation Sans', Arial, sans-serif" font-weight="normal" font-size="46.75" fill="#fff" stroke="#fff" stroke-width="0.4" stroke-linejoin="round" textLength="52.90" lengthAdjust="spacingAndGlyphs">50</text>
<text x="2190.03" y="1926.80" font-family="'Liberation Sans', Arial, sans-serif" font-weight="normal" font-size="46.75" fill="#fff" stroke="#fff" stroke-width="0.4" stroke-linejoin="round" textLength="119.01" lengthAdjust="spacingAndGlyphs">0.000</text>
<text x="2412.51" y="1926.80" font-family="'Liberation Sans', Arial, sans-serif" font-weight="normal" font-size="46.75" fill="#fff" stroke="#fff" stroke-width="0.4" stroke-linejoin="round" textLength="119.01" lengthAdjust="spacingAndGlyphs">0.002</text>
<text x="2634.15" y="1926.80" font-family="'Liberation Sans', Arial, sans-serif" font-weight="normal" font-size="46.75" fill="#fff" stroke="#fff" stroke-width="0.4" stroke-linejoin="round" textLength="119.01" lengthAdjust="spacingAndGlyphs">0.004</text>
<text x="2856.69" y="1926.80" font-family="'Liberation Sans', Arial, sans-serif" font-weight="normal" font-size="46.75" fill="#fff" stroke="#fff" stroke-width="0.4" stroke-linejoin="round" textLength="119.01" lengthAdjust="spacingAndGlyphs">0.006</text>
<text x="3078.88" y="1926.80" font-family="'Liberation Sans', Arial, sans-serif" font-weight="normal" font-size="46.75" fill="#fff" stroke="#fff" stroke-width="0.4" stroke-linejoin="round" textLength="119.01" lengthAdjust="spacingAndGlyphs">0.008</text>
<text x="3300.94" y="1926.80" font-family="'Liberation Sans', Arial, sans-serif" font-weight="normal" font-size="46.75" fill="#fff" stroke="#fff" stroke-width="0.4" stroke-linejoin="round" textLength="119.01" lengthAdjust="spacingAndGlyphs">0.010</text>
<text x="853.04" y="2002.20" font-family="'Liberation Sans', Arial, sans-serif" font-weight="normal" font-size="61.38" fill="#fff" stroke="#fff" stroke-width="0.4" stroke-linejoin="round" textLength="217.13" lengthAdjust="spacingAndGlyphs">Aerosol</text>
<text x="1086.84" y="2002.20" font-family="'Liberation Sans', Arial, sans-serif" font-weight="normal" font-size="61.38" fill="#fff" stroke="#fff" stroke-width="0.4" stroke-linejoin="round" textLength="292.01" lengthAdjust="spacingAndGlyphs">Extinction</text>
<text x="1393.43" y="2002.20" font-family="'Liberation Sans', Arial, sans-serif" font-weight="normal" font-size="61.38" fill="#fff" stroke="#fff" stroke-width="0.4" stroke-linejoin="round" textLength="317.33" lengthAdjust="spacingAndGlyphs">Coefficient</text>
<text x="1185.35" y="2077.00" font-family="'Liberation Sans', Arial, sans-serif" font-weight="normal" font-size="59.31" fill="#fff" stroke="#fff" stroke-width="0.4" stroke-linejoin="round" textLength="21.26" lengthAdjust="spacingAndGlyphs">[</text>
<text x="1209.40" y="2077.00" font-family="'Liberation Sans', Arial, sans-serif" font-weight="normal" font-size="60.41" fill="#fff" stroke="#fff" stroke-width="0.4" stroke-linejoin="round" textLength="90.76" lengthAdjust="spacingAndGlyphs">km</text>
<text x="1303.51" y="2055.40" font-family="'Liberation Serif', 'Times New Roman', serif" font-weight="normal" font-size="37.58" fill="#fff" stroke="#fff" stroke-width="0.4" stroke-linejoin="round" textLength="50.80" lengthAdjust="spacingAndGlyphs">−1</text>
<text x="1362.52" y="2077.00" font-family="'Liberation Sans', Arial, sans-serif" font-weight="normal" font-size="59.31" fill="#fff" stroke="#fff" stroke-width="0.4" stroke-linejoin="round" textLength="21.67" lengthAdjust="spacingAndGlyphs">]</text>
<text transform="translate(558.00,1234.97) rotate(-90)" x="0" y="0" font-family="'Liberation Sans', Arial, sans-serif" font-size="60.80" fill="#fff" stroke="#fff" stroke-width="0.4" stroke-linejoin="round" textLength="383.63" lengthAdjust="spacingAndGlyphs">Altitude [km]</text>
<text x="2319.04" y="2002.20" font-family="'Liberation Sans', Arial, sans-serif" font-weight="normal" font-size="61.38" fill="#fff" stroke="#fff" stroke-width="0.4" stroke-linejoin="round" textLength="217.13" lengthAdjust="spacingAndGlyphs">Aerosol</text>
<text x="2552.84" y="2002.20" font-family="'Liberation Sans', Arial, sans-serif" font-weight="normal" font-size="61.38" fill="#fff" stroke="#fff" stroke-width="0.4" stroke-linejoin="round" textLength="292.01" lengthAdjust="spacingAndGlyphs">Extinction</text>
<text x="2859.43" y="2002.20" font-family="'Liberation Sans', Arial, sans-serif" font-weight="normal" font-size="61.38" fill="#fff" stroke="#fff" stroke-width="0.4" stroke-linejoin="round" textLength="317.33" lengthAdjust="spacingAndGlyphs">Coefficient</text>
<text x="2651.34" y="2077.00" font-family="'Liberation Sans', Arial, sans-serif" font-weight="normal" font-size="59.31" fill="#fff" stroke="#fff" stroke-width="0.4" stroke-linejoin="round" textLength="21.26" lengthAdjust="spacingAndGlyphs">[</text>
<text x="2675.40" y="2077.00" font-family="'Liberation Sans', Arial, sans-serif" font-weight="normal" font-size="60.41" fill="#fff" stroke="#fff" stroke-width="0.4" stroke-linejoin="round" textLength="90.76" lengthAdjust="spacingAndGlyphs">km</text>
<text x="2769.51" y="2055.40" font-family="'Liberation Serif', 'Times New Roman', serif" font-weight="normal" font-size="37.58" fill="#fff" stroke="#fff" stroke-width="0.4" stroke-linejoin="round" textLength="50.80" lengthAdjust="spacingAndGlyphs">−1</text>
<text x="2828.51" y="2077.00" font-family="'Liberation Sans', Arial, sans-serif" font-weight="normal" font-size="59.31" fill="#fff" stroke="#fff" stroke-width="0.4" stroke-linejoin="round" textLength="21.67" lengthAdjust="spacingAndGlyphs">]</text>
<text transform="translate(2024.00,1234.97) rotate(-90)" x="0" y="0" font-family="'Liberation Sans', Arial, sans-serif" font-size="60.80" fill="#fff" stroke="#fff" stroke-width="0.4" stroke-linejoin="round" textLength="383.63" lengthAdjust="spacingAndGlyphs">Altitude [km]</text>
<rect x="14.5" y="759.5" width="423.9" height="896.9" rx="8" ry="8" fill="#000" stroke="#a8a8a8" stroke-width="3.0"/>
<line x1="25" y1="790.70" x2="115" y2="790.70" stroke="#043a60" stroke-width="10"/>
<line x1="25" y1="849.65" x2="115" y2="849.65" stroke="#044068" stroke-width="10"/>
<line x1="25" y1="908.60" x2="115" y2="908.60" stroke="#054670" stroke-width="10"/>
<line x1="25" y1="967.55" x2="115" y2="967.55" stroke="#054c78" stroke-width="10"/>
<line x1="25" y1="1026.50" x2="115" y2="1026.50" stroke="#05517f" stroke-width="10"/>
<line x1="25" y1="1085.45" x2="115" y2="1085.45" stroke="#055787" stroke-width="10"/>
<line x1="25" y1="1144.40" x2="115" y2="1144.40" stroke="#065d8f" stroke-width="10"/>
<line x1="25" y1="1203.35" x2="115" y2="1203.35" stroke="#066397" stroke-width="10"/>
<line x1="25" y1="1262.30" x2="115" y2="1262.30" stroke="#06699f" stroke-width="10"/>
<line x1="25" y1="1321.25" x2="115" y2="1321.25" stroke="#076fa7" stroke-width="10"/>
<line x1="25" y1="1380.20" x2="115" y2="1380.20" stroke="#0775af" stroke-width="10"/>
<line x1="25" y1="1439.15" x2="115" y2="1439.15" stroke="#077ab6" stroke-width="10"/>
<line x1="25" y1="1498.10" x2="115" y2="1498.10" stroke="#0780be" stroke-width="10"/>
<line x1="25" y1="1557.05" x2="115" y2="1557.05" stroke="#0886c6" stroke-width="10"/>
<line x1="25" y1="1616.00" x2="115" y2="1616.00" stroke="#088cce" stroke-width="10"/>
<text x="142.31" y="805.00" font-family="'Liberation Sans', Arial, sans-serif" font-weight="normal" font-size="40.68" fill="#fff" stroke="#fff" stroke-width="0.4" stroke-linejoin="round" textLength="276.92" lengthAdjust="spacingAndGlyphs">2021082202SR</text>
<text x="142.31" y="863.95" font-family="'Liberation Sans', Arial, sans-serif" font-weight="normal" font-size="40.68" fill="#fff" stroke="#fff" stroke-width="0.4" stroke-linejoin="round" textLength="276.92" lengthAdjust="spacingAndGlyphs">2021082206SR</text>
<text x="142.31" y="922.90" font-family="'Liberation Sans', Arial, sans-serif" font-weight="normal" font-size="40.68" fill="#fff" stroke="#fff" stroke-width="0.4" stroke-linejoin="round" textLength="276.92" lengthAdjust="spacingAndGlyphs">2021082210SR</text>
<text x="142.31" y="981.85" font-family="'Liberation Sans', Arial, sans-serif" font-weight="normal" font-size="40.68" fill="#fff" stroke="#fff" stroke-width="0.4" stroke-linejoin="round" textLength="276.92" lengthAdjust="spacingAndGlyphs">2021082214SR</text>
<text x="142.31" y="1040.80" font-family="'Liberation Sans', Arial, sans-serif" font-weight="normal" font-size="40.68" fill="#fff" stroke="#fff" stroke-width="0.4" stroke-linejoin="round" textLength="276.92" lengthAdjust="spacingAndGlyphs">2021082218SR</text>
<text x="142.31" y="1099.75" font-family="'Liberation Sans', Arial, sans-serif" font-weight="normal" font-size="40.68" fill="#fff" stroke="#fff" stroke-width="0.4" stroke-linejoin="round" textLength="276.92" lengthAdjust="spacingAndGlyphs">2021082221SR</text>
<text x="142.31" y="1158.70" font-family="'Liberation Sans', Arial, sans-serif" font-weight="normal" font-size="40.68" fill="#fff" stroke="#fff" stroke-width="0.4" stroke-linejoin="round" textLength="276.92" lengthAdjust="spacingAndGlyphs">2021082224SR</text>
<text x="142.31" y="1217.65" font-family="'Liberation Sans', Arial, sans-serif" font-weight="normal" font-size="40.68" fill="#fff" stroke="#fff" stroke-width="0.4" stroke-linejoin="round" textLength="276.92" lengthAdjust="spacingAndGlyphs">2021082227SR</text>
<text x="142.31" y="1276.60" font-family="'Liberation Sans', Arial, sans-serif" font-weight="normal" font-size="40.68" fill="#fff" stroke="#fff" stroke-width="0.4" stroke-linejoin="round" textLength="276.92" lengthAdjust="spacingAndGlyphs">2021082230SR</text>
<text x="142.31" y="1335.55" font-family="'Liberation Sans', Arial, sans-serif" font-weight="normal" font-size="40.68" fill="#fff" stroke="#fff" stroke-width="0.4" stroke-linejoin="round" textLength="276.92" lengthAdjust="spacingAndGlyphs">2021082233SR</text>
<text x="142.31" y="1394.50" font-family="'Liberation Sans', Arial, sans-serif" font-weight="normal" font-size="40.68" fill="#fff" stroke="#fff" stroke-width="0.4" stroke-linejoin="round" textLength="276.92" lengthAdjust="spacingAndGlyphs">2021082236SR</text>
<text x="142.31" y="1453.45" font-family="'Liberation Sans', Arial, sans-serif" font-weight="normal" font-size="40.68" fill="#fff" stroke="#fff" stroke-width="0.4" stroke-linejoin="round" textLength="276.92" lengthAdjust="spacingAndGlyphs">2021082239SR</text>
<text x="142.31" y="1512.40" font-family="'Liberation Sans', Arial, sans-serif" font-weight="normal" font-size="40.68" fill="#fff" stroke="#fff" stroke-width="0.4" stroke-linejoin="round" textLength="276.92" lengthAdjust="spacingAndGlyphs">2021082242SR</text>
<text x="142.31" y="1571.35" font-family="'Liberation Sans', Arial, sans-serif" font-weight="normal" font-size="40.68" fill="#fff" stroke="#fff" stroke-width="0.4" stroke-linejoin="round" textLength="276.92" lengthAdjust="spacingAndGlyphs">2021082245SR</text>
<text x="142.31" y="1630.30" font-family="'Liberation Sans', Arial, sans-serif" font-weight="normal" font-size="40.68" fill="#fff" stroke="#fff" stroke-width="0.4" stroke-linejoin="round" textLength="276.92" lengthAdjust="spacingAndGlyphs">2021082248SR</text>
<rect x="3381.0" y="729.5" width="422.7" height="955.3" rx="8" ry="8" fill="#000" stroke="#a8a8a8" stroke-width="3.0"/>
<line x1="3391.3" y1="760.90" x2="3481" y2="760.90" stroke="#3e0003" stroke-width="10"/>
<text x="3508.23" y="775.20" font-family="'Liberation Sans', Arial, sans-serif" font-weight="normal" font-size="40.68" fill="#fff" stroke="#fff" stroke-width="0.4" stroke-linejoin="round" textLength="272.13" lengthAdjust="spacingAndGlyphs">2021082201SS</text>
<line x1="3391.3" y1="819.90" x2="3481" y2="819.90" stroke="#4a0608" stroke-width="10"/>
<text x="3508.23" y="834.20" font-family="'Liberation Sans', Arial, sans-serif" font-weight="normal" font-size="40.68" fill="#fff" stroke="#fff" stroke-width="0.4" stroke-linejoin="round" textLength="272.13" lengthAdjust="spacingAndGlyphs">2021082205SS</text>
<line x1="3391.3" y1="878.90" x2="3481" y2="878.90" stroke="#560b0c" stroke-width="10"/>
<text x="3508.23" y="893.20" font-family="'Liberation Sans', Arial, sans-serif" font-weight="normal" font-size="40.68" fill="#fff" stroke="#fff" stroke-width="0.4" stroke-linejoin="round" textLength="272.13" lengthAdjust="spacingAndGlyphs">2021082209SS</text>
<line x1="3391.3" y1="937.90" x2="3481" y2="937.90" stroke="#621111" stroke-width="10"/>
<text x="3508.23" y="952.20" font-family="'Liberation Sans', Arial, sans-serif" font-weight="normal" font-size="40.68" fill="#fff" stroke="#fff" stroke-width="0.4" stroke-linejoin="round" textLength="272.13" lengthAdjust="spacingAndGlyphs">2021082213SS</text>
<line x1="3391.3" y1="996.90" x2="3481" y2="996.90" stroke="#6e1715" stroke-width="10"/>
<text x="3508.23" y="1011.20" font-family="'Liberation Sans', Arial, sans-serif" font-weight="normal" font-size="40.68" fill="#fff" stroke="#fff" stroke-width="0.4" stroke-linejoin="round" textLength="272.13" lengthAdjust="spacingAndGlyphs">2021082217SS</text>
<line x1="3391.3" y1="1055.90" x2="3481" y2="1055.90" stroke="#7a1c1a" stroke-width="10"/>
<text x="3508.23" y="1070.20" font-family="'Liberation Sans', Arial, sans-serif" font-weight="normal" font-size="40.68" fill="#fff" stroke="#fff" stroke-width="0.4" stroke-linejoin="round" textLength="272.13" lengthAdjust="spacingAndGlyphs">2021082220SS</text>
<line x1="3391.3" y1="1114.90" x2="3481" y2="1114.90" stroke="#86221f" stroke-width="10"/>
<text x="3508.23" y="1129.20" font-family="'Liberation Sans', Arial, sans-serif" font-weight="normal" font-size="40.68" fill="#fff" stroke="#fff" stroke-width="0.4" stroke-linejoin="round" textLength="272.13" lengthAdjust="spacingAndGlyphs">2021082223SS</text>
<line x1="3391.3" y1="1173.90" x2="3481" y2="1173.90" stroke="#922823" stroke-width="10"/>
<text x="3508.23" y="1188.20" font-family="'Liberation Sans', Arial, sans-serif" font-weight="normal" font-size="40.68" fill="#fff" stroke="#fff" stroke-width="0.4" stroke-linejoin="round" textLength="272.13" lengthAdjust="spacingAndGlyphs">2021082226SS</text>
<line x1="3391.3" y1="1232.90" x2="3481" y2="1232.90" stroke="#9f2d28" stroke-width="10"/>
<text x="3508.23" y="1247.20" font-family="'Liberation Sans', Arial, sans-serif" font-weight="normal" font-size="40.68" fill="#fff" stroke="#fff" stroke-width="0.4" stroke-linejoin="round" textLength="272.13" lengthAdjust="spacingAndGlyphs">2021082229SS</text>
<line x1="3391.3" y1="1291.90" x2="3481" y2="1291.90" stroke="#ab332c" stroke-width="10"/>
<text x="3508.23" y="1306.20" font-family="'Liberation Sans', Arial, sans-serif" font-weight="normal" font-size="40.68" fill="#fff" stroke="#fff" stroke-width="0.4" stroke-linejoin="round" textLength="272.13" lengthAdjust="spacingAndGlyphs">2021082232SS</text>
<line x1="3391.3" y1="1350.90" x2="3481" y2="1350.90" stroke="#b73931" stroke-width="10"/>
<text x="3508.23" y="1365.20" font-family="'Liberation Sans', Arial, sans-serif" font-weight="normal" font-size="40.68" fill="#fff" stroke="#fff" stroke-width="0.4" stroke-linejoin="round" textLength="272.13" lengthAdjust="spacingAndGlyphs">2021082235SS</text>
<line x1="3391.3" y1="1409.90" x2="3481" y2="1409.90" stroke="#c33e36" stroke-width="10"/>
<text x="3508.23" y="1424.20" font-family="'Liberation Sans', Arial, sans-serif" font-weight="normal" font-size="40.68" fill="#fff" stroke="#fff" stroke-width="0.4" stroke-linejoin="round" textLength="272.13" lengthAdjust="spacingAndGlyphs">2021082238SS</text>
<line x1="3391.3" y1="1468.90" x2="3481" y2="1468.90" stroke="#cf443a" stroke-width="10"/>
<text x="3508.23" y="1483.20" font-family="'Liberation Sans', Arial, sans-serif" font-weight="normal" font-size="40.68" fill="#fff" stroke="#fff" stroke-width="0.4" stroke-linejoin="round" textLength="272.13" lengthAdjust="spacingAndGlyphs">2021082241SS</text>
<line x1="3391.3" y1="1527.90" x2="3481" y2="1527.90" stroke="#db4a3f" stroke-width="10"/>
<text x="3508.23" y="1542.20" font-family="'Liberation Sans', Arial, sans-serif" font-weight="normal" font-size="40.68" fill="#fff" stroke="#fff" stroke-width="0.4" stroke-linejoin="round" textLength="272.13" lengthAdjust="spacingAndGlyphs">2021082244SS</text>
<line x1="3391.3" y1="1586.90" x2="3481" y2="1586.90" stroke="#e74f43" stroke-width="10"/>
<text x="3508.23" y="1601.20" font-family="'Liberation Sans', Arial, sans-serif" font-weight="normal" font-size="40.68" fill="#fff" stroke="#fff" stroke-width="0.4" stroke-linejoin="round" textLength="272.13" lengthAdjust="spacingAndGlyphs">2021082247SS</text>
<line x1="3391.3" y1="1645.90" x2="3481" y2="1645.90" stroke="#f35548" stroke-width="10"/>
<text x="3508.23" y="1660.20" font-family="'Liberation Sans', Arial, sans-serif" font-weight="normal" font-size="40.68" fill="#fff" stroke="#fff" stroke-width="0.4" stroke-linejoin="round" textLength="272.13" lengthAdjust="spacingAndGlyphs">2021082250SS</text>
<line x1="39.8" y1="1979.9" x2="120" y2="1979.9" stroke="#fff" stroke-width="10" stroke-dasharray="37 16.5"/>
<line x1="39.8" y1="2040" x2="120" y2="2040" stroke="#fff" stroke-width="10" stroke-dasharray="10 16.5"/>
<rect x="40.5" y="2085.4" width="80.3" height="27.8" fill="#66686d" stroke="#9c9c9c" stroke-width="2.8"/>
<text x="150.90" y="1993.70" font-family="'Liberation Sans', Arial, sans-serif" font-weight="normal" font-size="41.45" fill="#fff" stroke="#fff" stroke-width="0.4" stroke-linejoin="round" textLength="109.30" lengthAdjust="spacingAndGlyphs">Mean</text>
<text x="270.92" y="1993.70" font-family="'Liberation Sans', Arial, sans-serif" font-weight="normal" font-size="41.45" fill="#fff" stroke="#fff" stroke-width="0.4" stroke-linejoin="round" textLength="230.73" lengthAdjust="spacingAndGlyphs">Tropopause</text>
<text x="150.84" y="2054.00" font-family="'Liberation Sans', Arial, sans-serif" font-weight="normal" font-size="41.45" fill="#fff" stroke="#fff" stroke-width="0.4" stroke-linejoin="round" textLength="145.33" lengthAdjust="spacingAndGlyphs">Median</text>
<text x="307.93" y="2054.00" font-family="'Liberation Sans', Arial, sans-serif" font-weight="normal" font-size="41.45" fill="#fff" stroke="#fff" stroke-width="0.4" stroke-linejoin="round" textLength="229.61" lengthAdjust="spacingAndGlyphs">Tropopause</text>
<text x="152.52" y="2114.00" font-family="'Liberation Sans', Arial, sans-serif" font-weight="normal" font-size="41.45" fill="#fff" stroke="#fff" stroke-width="0.4" stroke-linejoin="round" textLength="230.63" lengthAdjust="spacingAndGlyphs">Tropopause</text>
<text x="394.45" y="2114.00" font-family="'Liberation Sans', Arial, sans-serif" font-weight="normal" font-size="41.45" fill="#fff" stroke="#fff" stroke-width="0.4" stroke-linejoin="round" textLength="126.86" lengthAdjust="spacingAndGlyphs">Range</text>
<text x="3267.78" y="2038.80" font-family="'Liberation Sans', Arial, sans-serif" font-weight="normal" font-size="32.69" fill="#8a8a8a" stroke="#8a8a8a" stroke-width="0.4" stroke-linejoin="round" textLength="87.93" lengthAdjust="spacingAndGlyphs">SAGE</text>
<text x="3366.97" y="2038.80" font-family="'DejaVu Sans Mono', monospace" font-weight="normal" font-size="30.96" fill="#8a8a8a" stroke="#8a8a8a" stroke-width="0.8" stroke-linejoin="round" textLength="15.01" lengthAdjust="spacingAndGlyphs">I</text>
<text x="3383.24" y="2038.80" font-family="'DejaVu Sans Mono', monospace" font-weight="normal" font-size="30.96" fill="#8a8a8a" stroke="#8a8a8a" stroke-width="0.8" stroke-linejoin="round" textLength="14.57" lengthAdjust="spacingAndGlyphs">I</text>
<text x="3399.09" y="2038.80" font-family="'DejaVu Sans Mono', monospace" font-weight="normal" font-size="30.96" fill="#8a8a8a" stroke="#8a8a8a" stroke-width="0.8" stroke-linejoin="round" textLength="14.87" lengthAdjust="spacingAndGlyphs">I</text>
<text x="3433.02" y="2038.80" font-family="'DejaVu Sans Mono', monospace" font-weight="normal" font-size="30.96" fill="#8a8a8a" stroke="#8a8a8a" stroke-width="0.8" stroke-linejoin="round" textLength="15.31" lengthAdjust="spacingAndGlyphs">I</text>
<text x="3449.67" y="2038.80" font-family="'Liberation Sans', Arial, sans-serif" font-weight="normal" font-size="32.69" fill="#8a8a8a" stroke="#8a8a8a" stroke-width="0.4" stroke-linejoin="round" textLength="39.54" lengthAdjust="spacingAndGlyphs">SS</text>
<text x="3499.26" y="2038.80" font-family="'Liberation Sans', Arial, sans-serif" font-weight="normal" font-size="32.69" fill="#8a8a8a" stroke="#8a8a8a" stroke-width="0.4" stroke-linejoin="round" textLength="120.85" lengthAdjust="spacingAndGlyphs">Mission</text>
<text x="3644.66" y="2038.80" font-family="'Liberation Sans', Arial, sans-serif" font-weight="normal" font-size="32.69" fill="#8a8a8a" stroke="#8a8a8a" stroke-width="0.4" stroke-linejoin="round" textLength="93.75" lengthAdjust="spacingAndGlyphs">NASA</text>
<text x="3750.40" y="2038.80" font-family="'Liberation Sans', Arial, sans-serif" font-weight="normal" font-size="32.69" fill="#8a8a8a" stroke="#8a8a8a" stroke-width="0.4" stroke-linejoin="round" textLength="86.64" lengthAdjust="spacingAndGlyphs">LaRC</text>
<text x="3415.70" y="2042.43" font-family="'Liberation Sans', Arial, sans-serif" font-weight="normal" font-size="37.14" fill="#8a8a8a" stroke="#8a8a8a" stroke-width="0.4" stroke-linejoin="round" textLength="15.22" lengthAdjust="spacingAndGlyphs">/</text>
<text x="3627.22" y="2038.52" font-family="'Liberation Sans', Arial, sans-serif" font-weight="normal" font-size="35.20" fill="#8a8a8a" textLength="9.74" lengthAdjust="spacingAndGlyphs">|</text>
<text x="3311.88" y="2076.30" font-family="'Liberation Sans', Arial, sans-serif" font-weight="normal" font-size="33.16" fill="#8a8a8a" stroke="#8a8a8a" stroke-width="0.4" stroke-linejoin="round" textLength="152.66" lengthAdjust="spacingAndGlyphs">Preparer:</text>
<text x="3471.13" y="2076.30" font-family="'Liberation Sans', Arial, sans-serif" font-weight="normal" font-size="33.16" fill="#8a8a8a" stroke="#8a8a8a" stroke-width="0.4" stroke-linejoin="round" textLength="93.05" lengthAdjust="spacingAndGlyphs">Kevin</text>
<text x="3574.32" y="2076.30" font-family="'Liberation Sans', Arial, sans-serif" font-weight="normal" font-size="33.16" fill="#8a8a8a" stroke="#8a8a8a" stroke-width="0.4" stroke-linejoin="round" textLength="31.30" lengthAdjust="spacingAndGlyphs">R.</text>
<text x="3613.77" y="2076.30" font-family="'Liberation Sans', Arial, sans-serif" font-weight="normal" font-size="33.16" fill="#8a8a8a" stroke="#8a8a8a" stroke-width="0.4" stroke-linejoin="round" textLength="112.18" lengthAdjust="spacingAndGlyphs">Leavor</text>
<text x="3734.91" y="2076.30" font-family="'Liberation Sans', Arial, sans-serif" font-weight="normal" font-size="33.16" fill="#8a8a8a" stroke="#8a8a8a" stroke-width="0.4" stroke-linejoin="round" textLength="103.60" lengthAdjust="spacingAndGlyphs">(AMA)</text>
<text x="3389.07" y="2113.60" font-family="'Liberation Sans', Arial, sans-serif" font-weight="normal" font-size="33.16" fill="#8a8a8a" stroke="#8a8a8a" stroke-width="0.4" stroke-linejoin="round" textLength="172.53" lengthAdjust="spacingAndGlyphs">Generated</text>
<text x="3571.40" y="2113.60" font-family="'Liberation Sans', Arial, sans-serif" font-weight="normal" font-size="33.16" fill="#8a8a8a" stroke="#8a8a8a" stroke-width="0.4" stroke-linejoin="round" textLength="173.51" lengthAdjust="spacingAndGlyphs">2025-07-17</text>
<text x="3755.40" y="2113.60" font-family="'Liberation Sans', Arial, sans-serif" font-weight="normal" font-size="33.16" fill="#8a8a8a" stroke="#8a8a8a" stroke-width="0.4" stroke-linejoin="round" textLength="80.18" lengthAdjust="spacingAndGlyphs">22:25</text>
<text x="3532.66" y="2150.80" font-family="'Liberation Sans', Arial, sans-serif" font-weight="normal" font-size="33.16" fill="#8a8a8a" stroke="#8a8a8a" stroke-width="0.4" stroke-linejoin="round" textLength="77.84" lengthAdjust="spacingAndGlyphs">Data</text>
<text x="3623.02" y="2150.80" font-family="'Liberation Sans', Arial, sans-serif" font-weight="normal" font-size="33.16" fill="#8a8a8a" stroke="#8a8a8a" stroke-width="0.4" stroke-linejoin="round" textLength="131.08" lengthAdjust="spacingAndGlyphs">Version:</text>
<text x="3761.41" y="2150.80" font-family="'Liberation Sans', Arial, sans-serif" font-weight="normal" font-size="33.16" fill="#8a8a8a" stroke="#8a8a8a" stroke-width="0.4" stroke-linejoin="round" textLength="75.22" lengthAdjust="spacingAndGlyphs">6.0.0</text>
<g id="logo">
<defs><clipPath id="lgin"><circle cx="3662.5" cy="220.0" r="126"/></clipPath><path id="lgarc" d="M 3510.8 260.7 A 157 157 0 0 0 3818.7 235.1"/></defs>
<path d="M 3494 219 L 3494 56 A 38 38 0 0 1 3532 18 L 3791 18 A 38 38 0 0 1 3829 56 L 3829 219 A 167.5 172.5 0 0 1 3494 219 Z" fill="#e4584a"/>
<path d="M 3500.5 219 L 3500.5 56 A 31.5 31.5 0 0 1 3532 24.5 L 3791 24.5 A 31.5 31.5 0 0 1 3822.5 56 L 3822.5 219 A 161 165.5 0 0 1 3500.5 219 Z" fill="#134f89"/>
<circle cx="3662.5" cy="220.0" r="126" fill="#0f4a85"/>
<g clip-path="url(#lgin)">
<circle cx="3201.8" cy="581.1" r="599" fill="#1b68a8"/>
<circle cx="3201.8" cy="581.1" r="587.5" fill="#15569a"/>
<path d="M 3600 160 L 3612 172 C 3635 188 3660 212 3676 236 C 3684 248 3690 258 3693 266 C 3686 268 3678 266 3670 262 C 3660 258 3648 262 3645 274 C 3644 288 3652 296 3664 302 C 3672 306 3680 312 3688 322 L 3684 330 C 3672 318 3660 310 3646 302 C 3630 296 3615 292 3600 292 Z" fill="#5a9c6b"/>
<path d="M 3694 300 C 3702 292 3712 294 3718 300 C 3724 312 3730 330 3736 350 L 3694 356 C 3690 340 3688 318 3694 300 Z" fill="#5a9c6b"/>
<path d="M 3622 204 C 3628 198 3638 200 3642 208 C 3640 216 3634 222 3628 220 C 3622 216 3620 210 3622 204 Z" fill="#15569a"/>
<path d="M 3630 226 L 3640 230 L 3636 236 Z" fill="#15569a"/>
<path d="M 3603 152 A 587.5 587.5 0 0 1 3745 352" fill="none" stroke="#e6f2ff" stroke-width="1.3"/>
</g>
<circle cx="3662.5" cy="220.0" r="133.2" fill="none" stroke="#c9cdd6" stroke-width="15.8"/>
<path d="M 3693.5 107.5 L 3695.48 114.52 L 3702.5 116.5 L 3695.48 118.48 L 3693.5 125.5 L 3691.52 118.48 L 3684.5 116.5 L 3691.52 114.52 Z" fill="#fbe3a6"/>
<path d="M 3680 122 L 3681.32 126.68 L 3686 128 L 3681.32 129.32 L 3680 134 L 3678.68 129.32 L 3674 128 L 3678.68 126.68 Z" fill="#ffffff"/>
<path d="M 3703 126.5 L 3703.99 130.01 L 3707.5 131 L 3703.99 131.99 L 3703 135.5 L 3702.01 131.99 L 3698.5 131 L 3702.01 130.01 Z" fill="#ffffff"/>
<line x1="3600" y1="156" x2="3628" y2="160" stroke="#e8f4ff" stroke-width="1.3"/>
<line x1="3646" y1="164" x2="3714" y2="189" stroke="#e8f4ff" stroke-width="1.3"/>
<line x1="3652" y1="158" x2="3714" y2="187" stroke="#e8f4ff" stroke-width="1.3"/>
<line x1="3714" y1="189" x2="3680" y2="225" stroke="#e8f4ff" stroke-width="1.3"/>
<line x1="3714" y1="189" x2="3675" y2="222" stroke="#e8f4ff" stroke-width="1.3"/>
<line x1="3716" y1="192" x2="3722" y2="262" stroke="#e8f4ff" stroke-width="1.3"/>
<line x1="3716" y1="192" x2="3734" y2="258" stroke="#e8f4ff" stroke-width="1.3"/>
<circle cx="3637.2" cy="144" r="23.4" fill="#f2f3f5"/>
<path d="M 3622 128 C 3640 120 3658 130 3660 148 C 3650 140 3640 150 3630 146 C 3625 140 3622 135 3622 128 Z" fill="#c9ccd3"/>
<circle cx="3648" cy="150" r="5" fill="#c9ccd3"/><circle cx="3640" cy="160" r="3.5" fill="#c9ccd3"/>
<circle cx="3735.5" cy="280.5" r="22.6" fill="#c9ccd3"/>
<circle cx="3738.5" cy="280" r="21" fill="#fde2a3"/>
<g fill="#c3c7cf">
<rect x="3703.4" y="147.8" width="2.6" height="22" transform="rotate(38 3704.7 158.8)"/>
<rect x="3707.0" y="149.9" width="2.6" height="22" transform="rotate(38 3708.3 160.9)"/>
<rect x="3710.7" y="152.0" width="2.6" height="22" transform="rotate(38 3712.0 163.0)"/>
<rect x="3714.4" y="154.1" width="2.6" height="22" transform="rotate(38 3715.7 165.1)"/>
<rect x="3718.0" y="156.2" width="2.6" height="22" transform="rotate(38 3719.3 167.2)"/>
<rect x="3735.4" y="179.8" width="2.6" height="22" transform="rotate(38 3736.7 190.8)"/>
<rect x="3739.0" y="181.9" width="2.6" height="22" transform="rotate(38 3740.3 192.9)"/>
<rect x="3742.7" y="184.0" width="2.6" height="22" transform="rotate(38 3744.0 195.0)"/>
<rect x="3746.4" y="186.1" width="2.6" height="22" transform="rotate(38 3747.7 197.1)"/>
<rect x="3750.0" y="188.2" width="2.6" height="22" transform="rotate(38 3751.3 199.2)"/>
</g>
<path d="M 3712 163 L 3744 195 M 3722 176 L 3732 170 M 3728 182 L 3738 176 M 3718 185 L 3726 190" stroke="#c3c7cf" stroke-width="2.2" fill="none"/>
<path d="M 3550 147 C 3536 160 3522 185 3512 210 C 3508 222 3505 232 3503 239 C 3515 236 3530 232 3541 228 C 3540 200 3545 172 3550 147 Z" fill="#cf4a3c"/>
<path d="M 3530 175 C 3522 195 3512 220 3503 239 C 3512 237 3522 234 3530 231 C 3527 212 3528 192 3530 175 Z" fill="#8a1f19"/>
<path d="M 3549 149 C 3565 142 3585 148 3600 168 C 3608 182 3610 198 3609 215 L 3609 334 C 3598 330 3585 318 3572 300 C 3560 282 3548 258 3541 232 C 3543 200 3545 170 3549 149 Z" fill="#d95646"/>
<path d="M 3544 210 C 3550 215 3556 222 3560 232 C 3564 260 3570 285 3578 305 C 3570 298 3562 285 3555 270 C 3548 256 3543 244 3541 232 Z" fill="#8f231d"/>
<path d="M 3575 225 L 3580 320 L 3572 300 Z M 3590 225 L 3596 328 L 3588 322 Z M 3600 228 L 3604 330 L 3598 327 Z" fill="#8f231d"/>
<path d="M 3556 207 C 3570 212 3590 216 3606 214 L 3606 221 C 3590 223 3570 219 3556 214 Z" fill="#7a3a1c"/>
<path d="M 3585 213 L 3597 210 L 3604 218 L 3600 229 L 3588 231 L 3582 222 Z" fill="#6b2d12" stroke="#c58a4a" stroke-width="1"/>
<path d="M 3564 141 C 3568 128 3590 122 3606 130 C 3612 140 3609 150 3604 156 C 3606 170 3600 186 3588 192 C 3578 186 3572 172 3566 162 C 3558 158 3557 148 3564 141 Z" fill="#ffffff"/>
<path d="M 3580 136 C 3590 131 3602 135 3604 145 C 3603 154 3596 160 3588 157 C 3582 152 3579 144 3580 136 Z" fill="#d9a26b"/>
<ellipse cx="3539" cy="183" rx="6.5" ry="8" fill="#e3ae76"/>
<rect x="3604" y="170" width="8" height="17" fill="#7a3a1c" transform="rotate(12 3608 178)"/>
<ellipse cx="3612" cy="185" rx="5" ry="6.5" fill="#e3ae76"/>
<path d="M 3535 121 C 3540 150 3545 190 3549 232 C 3556 250 3563 268 3563.6 296" fill="none" stroke="#5a2c12" stroke-width="5.2"/>
<path d="M 3535 121 C 3540 150 3545 190 3549 232 C 3556 250 3563 268 3563.6 296" fill="none" stroke="#c0813f" stroke-width="3.2"/>
<circle cx="3533" cy="113.3" r="9.8" fill="#cdd0d6" stroke="#ffffff" stroke-width="1.6"/>
</g>
<text x="3526.03" y="59.40" font-family="'Liberation Serif', 'Times New Roman', serif" font-weight="bold" font-size="42.75" fill="#ffffff" textLength="268.73" lengthAdjust="spacingAndGlyphs">SAGE III • ISS</text>
<text x="3527.81" y="72.00" font-family="'Liberation Sans', Arial, sans-serif" font-weight="normal" font-size="9.03" fill="#e9eef6" textLength="174.00" lengthAdjust="spacingAndGlyphs">Stratospheric Aerosol and Gas Experiment III</text>
<text x="3736.10" y="72.00" font-family="'Liberation Sans', Arial, sans-serif" font-weight="normal" font-size="9.16" fill="#e9eef6" textLength="53.55" lengthAdjust="spacingAndGlyphs">International</text>
<text x="3733.16" y="83.10" font-family="'Liberation Sans', Arial, sans-serif" font-weight="normal" font-size="9.03" fill="#e9eef6" textLength="60.46" lengthAdjust="spacingAndGlyphs">Space Station</text>
<text font-family="'Liberation Sans', Arial, sans-serif" font-weight="bold" font-size="13.2" fill="#ffffff"><textPath href="#lgarc" startOffset="0" textLength="436" lengthAdjust="spacingAndGlyphs">BALL • NASA LANGLEY RESEARCH CENTER • TAS-I • ESA</textPath></text>
</svg></body></html>
